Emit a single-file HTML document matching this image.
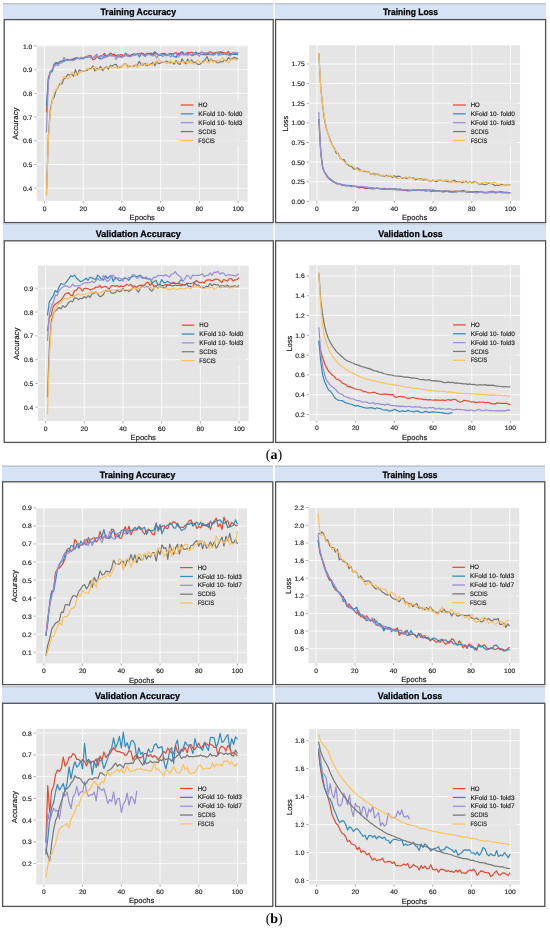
<!DOCTYPE html>
<html><head><meta charset="utf-8"><style>
html,body{margin:0;padding:0;background:#fff;}
svg{display:block;filter:blur(0.45px);text-rendering:geometricPrecision;}
.tk{font-family:"Liberation Sans",sans-serif;font-size:6.5px;fill:#222;stroke:#222;stroke-width:0.15px;}
.lb{font-family:"Liberation Sans",sans-serif;font-size:7.6px;fill:#111;stroke:#111;stroke-width:0.15px;}
.lg{font-family:"Liberation Sans",sans-serif;font-size:6.5px;fill:#222;stroke:#222;stroke-width:0.15px;}
.tt{font-family:"Liberation Sans",sans-serif;font-size:9.3px;font-weight:bold;fill:#000;stroke:#000;stroke-width:0.25px;}
.cap{font-family:"Liberation Serif",serif;font-size:14px;fill:#000;}
.cap tspan{font-weight:bold;}
</style></head><body>
<svg width="550" height="928" viewBox="0 0 550 928">
<rect x="0" y="0" width="550" height="928" fill="#fff"/>
<rect x="3" y="3" width="270.5" height="16" fill="#D6E3F4"/>
<line x1="3" y1="3.75" x2="273.5" y2="3.75" stroke="#BEC5CE" stroke-width="1.5"/>
<text x="138.25" y="15" class="tt" text-anchor="middle" textLength="75.60" lengthAdjust="spacingAndGlyphs">Training Accuracy</text>
<rect x="275" y="3" width="271" height="16" fill="#D6E3F4"/>
<line x1="275" y1="3.75" x2="546" y2="3.75" stroke="#BEC5CE" stroke-width="1.5"/>
<text x="410.5" y="15" class="tt" text-anchor="middle" textLength="55.16" lengthAdjust="spacingAndGlyphs">Training Loss</text>
<rect x="4.2" y="19.6" width="269.0" height="203.0" fill="none" stroke="#505050" stroke-width="1.3"/>
<rect x="275.6" y="19.6" width="270.0" height="203.0" fill="none" stroke="#505050" stroke-width="1.3"/>
<rect x="3" y="223" width="270.5" height="17.5" fill="#D6E3F4"/>
<line x1="3" y1="223.75" x2="273.5" y2="223.75" stroke="#BEC5CE" stroke-width="1.5"/>
<text x="138.25" y="236.5" class="tt" text-anchor="middle" textLength="84.92" lengthAdjust="spacingAndGlyphs">Validation Accuracy</text>
<rect x="275" y="223" width="271" height="17.5" fill="#D6E3F4"/>
<line x1="275" y1="223.75" x2="546" y2="223.75" stroke="#BEC5CE" stroke-width="1.5"/>
<text x="410.5" y="236.5" class="tt" text-anchor="middle" textLength="64.48" lengthAdjust="spacingAndGlyphs">Validation Loss</text>
<rect x="4.2" y="240.8" width="269.1" height="201.59999999999997" fill="none" stroke="#505050" stroke-width="1.3"/>
<rect x="275.6" y="240.8" width="270.0" height="201.59999999999997" fill="none" stroke="#505050" stroke-width="1.3"/>
<rect x="2" y="465.5" width="271" height="16.0" fill="#D6E3F4"/>
<line x1="2" y1="466.25" x2="273" y2="466.25" stroke="#BEC5CE" stroke-width="1.5"/>
<text x="137.5" y="477.5" class="tt" text-anchor="middle" textLength="75.60" lengthAdjust="spacingAndGlyphs">Training Accuracy</text>
<rect x="275" y="465.5" width="270" height="16.0" fill="#D6E3F4"/>
<line x1="275" y1="466.25" x2="545" y2="466.25" stroke="#BEC5CE" stroke-width="1.5"/>
<text x="410.0" y="477.5" class="tt" text-anchor="middle" textLength="55.16" lengthAdjust="spacingAndGlyphs">Training Loss</text>
<rect x="2.6" y="481.8" width="270.2" height="202.8" fill="none" stroke="#505050" stroke-width="1.3"/>
<rect x="275.6" y="481.8" width="269.19999999999993" height="202.8" fill="none" stroke="#505050" stroke-width="1.3"/>
<rect x="2" y="686" width="271" height="17" fill="#D6E3F4"/>
<line x1="2" y1="686.75" x2="273" y2="686.75" stroke="#BEC5CE" stroke-width="1.5"/>
<text x="137.5" y="699" class="tt" text-anchor="middle" textLength="84.92" lengthAdjust="spacingAndGlyphs">Validation Accuracy</text>
<rect x="275" y="686" width="270" height="17" fill="#D6E3F4"/>
<line x1="275" y1="686.75" x2="545" y2="686.75" stroke="#BEC5CE" stroke-width="1.5"/>
<text x="410.0" y="699" class="tt" text-anchor="middle" textLength="64.48" lengthAdjust="spacingAndGlyphs">Validation Loss</text>
<rect x="2.6" y="703.3" width="270.2" height="203.10000000000002" fill="none" stroke="#505050" stroke-width="1.3"/>
<rect x="275.6" y="703.3" width="269.19999999999993" height="203.10000000000002" fill="none" stroke="#505050" stroke-width="1.3"/>
<rect x="36.85" y="45.30" width="210.8304" height="155.6" fill="#E5E5E5"/>
<line x1="44.50" y1="45.30" x2="44.50" y2="200.90" stroke="#fff" stroke-opacity="0.8" stroke-width="1.0"/>
<line x1="83.22" y1="45.30" x2="83.22" y2="200.90" stroke="#fff" stroke-opacity="0.8" stroke-width="1.0"/>
<line x1="121.94" y1="45.30" x2="121.94" y2="200.90" stroke="#fff" stroke-opacity="0.8" stroke-width="1.0"/>
<line x1="160.66" y1="45.30" x2="160.66" y2="200.90" stroke="#fff" stroke-opacity="0.8" stroke-width="1.0"/>
<line x1="199.38" y1="45.30" x2="199.38" y2="200.90" stroke="#fff" stroke-opacity="0.8" stroke-width="1.0"/>
<line x1="238.10" y1="45.30" x2="238.10" y2="200.90" stroke="#fff" stroke-opacity="0.8" stroke-width="1.0"/>
<line x1="36.85" y1="188.22" x2="247.68" y2="188.22" stroke="#fff" stroke-opacity="0.8" stroke-width="1.0"/>
<line x1="36.85" y1="164.52" x2="247.68" y2="164.52" stroke="#fff" stroke-opacity="0.8" stroke-width="1.0"/>
<line x1="36.85" y1="140.82" x2="247.68" y2="140.82" stroke="#fff" stroke-opacity="0.8" stroke-width="1.0"/>
<line x1="36.85" y1="117.12" x2="247.68" y2="117.12" stroke="#fff" stroke-opacity="0.8" stroke-width="1.0"/>
<line x1="36.85" y1="93.41" x2="247.68" y2="93.41" stroke="#fff" stroke-opacity="0.8" stroke-width="1.0"/>
<line x1="36.85" y1="69.71" x2="247.68" y2="69.71" stroke="#fff" stroke-opacity="0.8" stroke-width="1.0"/>
<line x1="36.85" y1="46.01" x2="247.68" y2="46.01" stroke="#fff" stroke-opacity="0.8" stroke-width="1.0"/>
<polyline points="46.44,112.38 48.37,77.70 50.31,71.59 52.24,70.08 54.18,64.95 56.12,63.44 58.05,63.66 59.99,61.61 61.92,61.01 63.86,60.44 65.80,60.21 67.73,59.20 69.67,60.27 71.60,59.38 73.54,59.36 75.48,57.82 77.41,58.12 79.35,58.33 81.28,58.74 83.22,57.97 85.16,57.41 87.09,57.52 89.03,55.51 90.96,55.50 92.90,59.76 94.84,59.07 96.77,56.84 98.71,56.78 100.64,55.90 102.58,55.69 104.52,53.30 106.45,56.78 108.39,56.15 110.32,53.12 112.26,54.37 114.20,54.37 116.13,55.67 118.07,57.05 120.00,54.95 121.94,54.72 123.88,56.20 125.81,55.61 127.75,54.75 129.68,55.62 131.62,54.62 133.56,54.22 135.49,54.20 137.43,54.80 139.36,53.51 141.30,52.99 143.24,53.57 145.17,54.94 147.11,53.20 149.04,54.44 150.98,52.89 152.92,55.01 154.85,52.83 156.79,53.69 158.72,55.19 160.66,54.20 162.60,53.63 164.53,53.28 166.47,54.70 168.40,54.95 170.34,53.40 172.28,54.00 174.21,53.19 176.15,52.46 178.08,55.21 180.02,53.20 181.96,51.82 183.89,53.46 185.83,54.20 187.76,52.39 189.70,52.77 191.64,52.02 193.57,53.40 195.51,54.86 197.44,53.36 199.38,53.59 201.32,52.15 203.25,52.67 205.19,54.87 207.12,54.56 209.06,52.04 211.00,52.01 212.93,53.56 214.87,52.94 216.80,52.33 218.74,52.22 220.68,51.71 222.61,52.38 224.55,52.84 226.48,53.07 228.42,51.52 230.36,55.26 232.29,53.12 234.23,52.69 236.16,54.35 238.10,52.42" fill="none" stroke="#E24A33" stroke-width="1.2" stroke-linejoin="round"/>
<polyline points="46.44,105.26 48.37,79.32 50.31,72.63 52.24,71.54 54.18,64.04 56.12,62.55 58.05,63.40 59.99,61.48 61.92,61.26 63.86,61.67 65.80,59.43 67.73,60.36 69.67,60.12 71.60,60.32 73.54,58.56 75.48,58.79 77.41,57.87 79.35,58.96 81.28,58.03 83.22,58.98 85.16,56.87 87.09,57.29 89.03,57.02 90.96,56.77 92.90,58.30 94.84,56.20 96.77,54.36 98.71,58.44 100.64,58.85 102.58,58.52 104.52,55.60 106.45,56.05 108.39,54.88 110.32,55.09 112.26,55.63 114.20,55.50 116.13,55.94 118.07,54.67 120.00,56.83 121.94,56.13 123.88,55.19 125.81,53.18 127.75,55.94 129.68,56.52 131.62,55.90 133.56,53.95 135.49,55.15 137.43,53.38 139.36,56.96 141.30,53.73 143.24,53.48 145.17,56.33 147.11,54.72 149.04,53.27 150.98,54.43 152.92,53.44 154.85,51.68 156.79,53.96 158.72,54.82 160.66,55.46 162.60,53.81 164.53,54.62 166.47,54.65 168.40,54.54 170.34,53.61 172.28,55.52 174.21,56.24 176.15,57.36 178.08,53.14 180.02,54.03 181.96,52.39 183.89,54.00 185.83,55.01 187.76,53.64 189.70,54.14 191.64,55.56 193.57,55.24 195.51,52.05 197.44,53.39 199.38,53.43 201.32,54.23 203.25,54.78 205.19,52.95 207.12,53.92 209.06,54.78 211.00,54.11 212.93,54.93 214.87,53.70 216.80,52.45 218.74,54.63 220.68,52.15 222.61,54.37 224.55,53.60 226.48,54.68 228.42,54.05 230.36,53.65 232.29,54.16 234.23,54.51 236.16,54.50 238.10,54.66" fill="none" stroke="#348ABD" stroke-width="1.2" stroke-linejoin="round"/>
<polyline points="46.44,132.52 48.37,81.98 50.31,71.87 52.24,69.24 54.18,66.48 56.12,64.43 58.05,65.68 59.99,63.03 61.92,62.93 63.86,57.44 65.80,60.11 67.73,60.69 69.67,60.31 71.60,60.41 73.54,60.57 75.48,59.55 77.41,58.23 79.35,58.77 81.28,57.24 83.22,58.30 85.16,57.98 87.09,56.00 89.03,56.85 90.96,58.05 92.90,57.66 94.84,56.65 96.77,54.79 98.71,57.12 100.64,57.22 102.58,55.66 104.52,57.65 106.45,57.06 108.39,55.52 110.32,55.64 112.26,56.15 114.20,55.44 116.13,59.44 118.07,55.20 120.00,57.05 121.94,58.01 123.88,55.73 125.81,54.93 127.75,56.14 129.68,56.95 131.62,55.66 133.56,55.56 135.49,53.78 137.43,54.34 139.36,55.01 141.30,53.94 143.24,55.36 145.17,56.31 147.11,54.58 149.04,54.36 150.98,55.25 152.92,55.97 154.85,54.81 156.79,57.88 158.72,54.38 160.66,54.23 162.60,56.70 164.53,54.90 166.47,55.90 168.40,53.93 170.34,57.01 172.28,55.96 174.21,53.89 176.15,53.13 178.08,56.95 180.02,55.33 181.96,54.16 183.89,55.13 185.83,52.59 187.76,55.60 189.70,54.04 191.64,55.52 193.57,52.73 195.51,54.11 197.44,54.63 199.38,56.25 201.32,52.36 203.25,53.04 205.19,53.08 207.12,52.60 209.06,53.46 211.00,54.69 212.93,54.97 214.87,54.98 216.80,52.38 218.74,55.45 220.68,54.70 222.61,54.28 224.55,53.56 226.48,53.05 228.42,55.14 230.36,55.89 232.29,53.90 234.23,52.23 236.16,52.58 238.10,53.24" fill="none" stroke="#988ED5" stroke-width="1.2" stroke-linejoin="round"/>
<polyline points="46.44,195.33 48.37,136.47 50.31,109.65 52.24,100.08 54.18,97.01 56.12,90.29 58.05,87.36 59.99,83.50 61.92,83.95 63.86,79.06 65.80,77.63 67.73,74.32 69.67,75.22 71.60,74.06 73.54,76.35 75.48,69.52 77.41,74.95 79.35,69.73 81.28,70.86 83.22,71.21 85.16,70.67 87.09,70.39 89.03,68.39 90.96,68.78 92.90,65.96 94.84,70.97 96.77,68.24 98.71,69.25 100.64,66.40 102.58,70.74 104.52,68.07 106.45,66.73 108.39,69.25 110.32,65.25 112.26,66.05 114.20,64.61 116.13,64.41 118.07,67.48 120.00,67.35 121.94,66.22 123.88,64.41 125.81,63.94 127.75,66.36 129.68,66.32 131.62,66.52 133.56,66.08 135.49,65.35 137.43,64.99 139.36,61.22 141.30,65.00 143.24,64.89 145.17,63.52 147.11,65.61 149.04,64.74 150.98,63.90 152.92,62.45 154.85,65.66 156.79,61.42 158.72,63.75 160.66,63.02 162.60,61.72 164.53,61.80 166.47,61.05 168.40,62.35 170.34,62.70 172.28,62.09 174.21,64.11 176.15,60.55 178.08,63.41 180.02,64.41 181.96,58.92 183.89,61.93 185.83,63.87 187.76,58.96 189.70,62.00 191.64,59.92 193.57,62.73 195.51,61.94 197.44,64.14 199.38,64.62 201.32,63.01 203.25,61.26 205.19,59.53 207.12,56.55 209.06,61.89 211.00,58.94 212.93,61.22 214.87,60.60 216.80,62.65 218.74,62.75 220.68,61.50 222.61,61.97 224.55,59.96 226.48,60.82 228.42,57.58 230.36,58.99 232.29,59.02 234.23,57.32 236.16,58.09 238.10,59.00" fill="none" stroke="#777777" stroke-width="1.2" stroke-linejoin="round"/>
<polyline points="46.44,195.33 48.37,138.41 50.31,113.02 52.24,100.81 54.18,92.48 56.12,89.65 58.05,87.18 59.99,85.03 61.92,80.19 63.86,76.37 65.80,77.30 67.73,78.95 69.67,77.79 71.60,72.51 73.54,73.38 75.48,75.83 77.41,72.54 79.35,73.24 81.28,71.71 83.22,70.65 85.16,70.70 87.09,68.36 89.03,68.92 90.96,69.63 92.90,67.83 94.84,66.74 96.77,70.54 98.71,68.43 100.64,69.24 102.58,67.80 104.52,69.34 106.45,67.17 108.39,66.89 110.32,67.16 112.26,68.27 114.20,67.16 116.13,68.07 118.07,68.46 120.00,65.75 121.94,67.57 123.88,63.84 125.81,64.10 127.75,68.52 129.68,65.08 131.62,66.90 133.56,65.09 135.49,64.78 137.43,68.02 139.36,65.33 141.30,64.99 143.24,62.82 145.17,66.04 147.11,63.06 149.04,65.69 150.98,64.57 152.92,65.19 154.85,61.35 156.79,62.32 158.72,59.22 160.66,61.78 162.60,61.60 164.53,61.49 166.47,63.78 168.40,63.02 170.34,60.50 172.28,63.05 174.21,62.24 176.15,62.42 178.08,61.30 180.02,62.72 181.96,62.42 183.89,61.65 185.83,61.72 187.76,63.25 189.70,60.40 191.64,63.67 193.57,63.72 195.51,63.75 197.44,59.92 199.38,61.63 201.32,62.71 203.25,62.98 205.19,60.32 207.12,62.40 209.06,62.87 211.00,59.69 212.93,62.28 214.87,60.99 216.80,60.24 218.74,60.80 220.68,60.11 222.61,57.63 224.55,60.37 226.48,61.79 228.42,62.80 230.36,60.10 232.29,59.99 234.23,58.86 236.16,59.88 238.10,59.91" fill="none" stroke="#FBC15E" stroke-width="1.2" stroke-linejoin="round"/>
<line x1="44.50" y1="200.90" x2="44.50" y2="203.20" stroke="#777" stroke-width="0.6"/>
<text x="44.50" y="210.50" class="tk" text-anchor="middle" textLength="3.75" lengthAdjust="spacingAndGlyphs">0</text>
<line x1="83.22" y1="200.90" x2="83.22" y2="203.20" stroke="#777" stroke-width="0.6"/>
<text x="83.22" y="210.50" class="tk" text-anchor="middle" textLength="7.49" lengthAdjust="spacingAndGlyphs">20</text>
<line x1="121.94" y1="200.90" x2="121.94" y2="203.20" stroke="#777" stroke-width="0.6"/>
<text x="121.94" y="210.50" class="tk" text-anchor="middle" textLength="7.49" lengthAdjust="spacingAndGlyphs">40</text>
<line x1="160.66" y1="200.90" x2="160.66" y2="203.20" stroke="#777" stroke-width="0.6"/>
<text x="160.66" y="210.50" class="tk" text-anchor="middle" textLength="7.49" lengthAdjust="spacingAndGlyphs">60</text>
<line x1="199.38" y1="200.90" x2="199.38" y2="203.20" stroke="#777" stroke-width="0.6"/>
<text x="199.38" y="210.50" class="tk" text-anchor="middle" textLength="7.49" lengthAdjust="spacingAndGlyphs">80</text>
<line x1="238.10" y1="200.90" x2="238.10" y2="203.20" stroke="#777" stroke-width="0.6"/>
<text x="238.10" y="210.50" class="tk" text-anchor="middle" textLength="11.24" lengthAdjust="spacingAndGlyphs">100</text>
<line x1="34.25" y1="188.22" x2="36.65" y2="188.22" stroke="#777" stroke-width="0.6"/>
<text x="32.35" y="190.72" class="tk" text-anchor="end" textLength="9.37" lengthAdjust="spacingAndGlyphs">0.4</text>
<line x1="34.25" y1="164.52" x2="36.65" y2="164.52" stroke="#777" stroke-width="0.6"/>
<text x="32.35" y="167.02" class="tk" text-anchor="end" textLength="9.37" lengthAdjust="spacingAndGlyphs">0.5</text>
<line x1="34.25" y1="140.82" x2="36.65" y2="140.82" stroke="#777" stroke-width="0.6"/>
<text x="32.35" y="143.32" class="tk" text-anchor="end" textLength="9.37" lengthAdjust="spacingAndGlyphs">0.6</text>
<line x1="34.25" y1="117.12" x2="36.65" y2="117.12" stroke="#777" stroke-width="0.6"/>
<text x="32.35" y="119.62" class="tk" text-anchor="end" textLength="9.37" lengthAdjust="spacingAndGlyphs">0.7</text>
<line x1="34.25" y1="93.41" x2="36.65" y2="93.41" stroke="#777" stroke-width="0.6"/>
<text x="32.35" y="95.91" class="tk" text-anchor="end" textLength="9.37" lengthAdjust="spacingAndGlyphs">0.8</text>
<line x1="34.25" y1="69.71" x2="36.65" y2="69.71" stroke="#777" stroke-width="0.6"/>
<text x="32.35" y="72.21" class="tk" text-anchor="end" textLength="9.37" lengthAdjust="spacingAndGlyphs">0.9</text>
<line x1="34.25" y1="46.01" x2="36.65" y2="46.01" stroke="#777" stroke-width="0.6"/>
<text x="32.35" y="48.51" class="tk" text-anchor="end" textLength="9.37" lengthAdjust="spacingAndGlyphs">1.0</text>
<text x="142.27" y="219.90" class="lb" text-anchor="middle" textLength="25.33" lengthAdjust="spacingAndGlyphs">Epochs</text>
<text x="0" y="0" class="lb" text-anchor="middle" textLength="32.28" lengthAdjust="spacingAndGlyphs" transform="translate(17.99,123.60) rotate(-90)">Accuracy</text>
<rect x="178.18" y="99.60" width="66.60" height="46.20" fill="#E5E5E5" fill-opacity="0.85" stroke="none" rx="1.5"/>
<line x1="180.68" y1="105.00" x2="193.38" y2="105.00" stroke="#E24A33" stroke-width="1.25"/>
<text x="198.28" y="107.10" class="lg" textLength="9.07" lengthAdjust="spacingAndGlyphs">HO</text>
<line x1="180.68" y1="113.85" x2="193.38" y2="113.85" stroke="#348ABD" stroke-width="1.25"/>
<text x="198.28" y="115.95" class="lg" textLength="44.18" lengthAdjust="spacingAndGlyphs">KFold 10- fold0</text>
<line x1="180.68" y1="122.70" x2="193.38" y2="122.70" stroke="#988ED5" stroke-width="1.25"/>
<text x="198.28" y="124.80" class="lg" textLength="44.18" lengthAdjust="spacingAndGlyphs">KFold 10- fold3</text>
<line x1="180.68" y1="131.55" x2="193.38" y2="131.55" stroke="#777777" stroke-width="1.25"/>
<text x="198.28" y="133.65" class="lg" textLength="17.86" lengthAdjust="spacingAndGlyphs">SCDIS</text>
<line x1="180.68" y1="140.40" x2="193.38" y2="140.40" stroke="#FBC15E" stroke-width="1.25"/>
<text x="198.28" y="142.50" class="lg" textLength="16.61" lengthAdjust="spacingAndGlyphs">FSCIS</text>
<rect x="309.25" y="45.30" width="210.8304" height="155.6" fill="#E5E5E5"/>
<line x1="316.90" y1="45.30" x2="316.90" y2="200.90" stroke="#fff" stroke-opacity="0.8" stroke-width="1.0"/>
<line x1="355.62" y1="45.30" x2="355.62" y2="200.90" stroke="#fff" stroke-opacity="0.8" stroke-width="1.0"/>
<line x1="394.34" y1="45.30" x2="394.34" y2="200.90" stroke="#fff" stroke-opacity="0.8" stroke-width="1.0"/>
<line x1="433.06" y1="45.30" x2="433.06" y2="200.90" stroke="#fff" stroke-opacity="0.8" stroke-width="1.0"/>
<line x1="471.78" y1="45.30" x2="471.78" y2="200.90" stroke="#fff" stroke-opacity="0.8" stroke-width="1.0"/>
<line x1="510.50" y1="45.30" x2="510.50" y2="200.90" stroke="#fff" stroke-opacity="0.8" stroke-width="1.0"/>
<line x1="309.25" y1="201.37" x2="520.08" y2="201.37" stroke="#fff" stroke-opacity="0.8" stroke-width="1.0"/>
<line x1="309.25" y1="181.74" x2="520.08" y2="181.74" stroke="#fff" stroke-opacity="0.8" stroke-width="1.0"/>
<line x1="309.25" y1="162.12" x2="520.08" y2="162.12" stroke="#fff" stroke-opacity="0.8" stroke-width="1.0"/>
<line x1="309.25" y1="142.49" x2="520.08" y2="142.49" stroke="#fff" stroke-opacity="0.8" stroke-width="1.0"/>
<line x1="309.25" y1="122.86" x2="520.08" y2="122.86" stroke="#fff" stroke-opacity="0.8" stroke-width="1.0"/>
<line x1="309.25" y1="103.24" x2="520.08" y2="103.24" stroke="#fff" stroke-opacity="0.8" stroke-width="1.0"/>
<line x1="309.25" y1="83.61" x2="520.08" y2="83.61" stroke="#fff" stroke-opacity="0.8" stroke-width="1.0"/>
<line x1="309.25" y1="63.98" x2="520.08" y2="63.98" stroke="#fff" stroke-opacity="0.8" stroke-width="1.0"/>
<polyline points="318.84,118.94 320.77,152.05 322.71,167.63 324.64,172.51 326.58,175.82 328.52,178.22 330.45,179.34 332.39,180.87 334.32,181.76 336.26,183.97 338.20,183.43 340.13,184.27 342.07,184.43 344.00,185.12 345.94,185.67 347.88,185.62 349.81,185.59 351.75,186.21 353.68,186.52 355.62,186.35 357.56,187.16 359.49,187.83 361.43,187.25 363.36,187.69 365.30,188.52 367.24,188.35 369.17,188.24 371.11,188.64 373.04,188.99 374.98,188.47 376.92,188.00 378.85,188.47 380.79,188.94 382.72,188.62 384.66,188.45 386.60,188.96 388.53,188.79 390.47,188.57 392.40,189.17 394.34,189.71 396.28,189.39 398.21,189.41 400.15,189.07 402.08,190.16 404.02,190.26 405.96,190.43 407.89,190.96 409.83,190.30 411.76,189.98 413.70,190.53 415.64,189.75 417.57,189.84 419.51,190.01 421.44,190.21 423.38,190.07 425.32,191.14 427.25,190.58 429.19,190.46 431.12,191.58 433.06,190.96 435.00,191.09 436.93,190.68 438.87,191.17 440.80,191.15 442.74,191.01 444.68,191.58 446.61,191.09 448.55,191.31 450.48,191.13 452.42,191.58 454.36,191.00 456.29,191.08 458.23,191.50 460.16,191.28 462.10,190.95 464.04,190.63 465.97,192.15 467.91,191.47 469.84,191.50 471.78,191.80 473.72,192.35 475.65,191.47 477.59,192.42 479.52,191.88 481.46,191.39 483.40,192.64 485.33,192.43 487.27,192.87 489.20,192.29 491.14,191.55 493.08,191.11 495.01,192.79 496.95,192.76 498.88,192.17 500.82,191.60 502.76,192.00 504.69,192.70 506.63,192.44 508.56,192.53 510.50,192.67" fill="none" stroke="#E24A33" stroke-width="1.2" stroke-linejoin="round"/>
<polyline points="318.84,118.94 320.77,152.29 322.71,167.98 324.64,172.09 326.58,174.92 328.52,178.18 330.45,179.84 332.39,181.52 334.32,182.34 336.26,182.88 338.20,183.85 340.13,184.16 342.07,185.47 344.00,185.30 345.94,185.90 347.88,185.22 349.81,185.50 351.75,185.72 353.68,186.32 355.62,186.37 357.56,186.50 359.49,187.05 361.43,187.40 363.36,187.46 365.30,187.78 367.24,187.98 369.17,188.01 371.11,188.30 373.04,187.89 374.98,188.78 376.92,188.19 378.85,188.66 380.79,188.86 382.72,189.31 384.66,189.05 386.60,189.09 388.53,189.01 390.47,189.34 392.40,189.27 394.34,188.64 396.28,189.07 398.21,189.65 400.15,189.29 402.08,189.67 404.02,189.57 405.96,189.59 407.89,190.05 409.83,190.85 411.76,190.52 413.70,190.13 415.64,190.43 417.57,190.25 419.51,190.04 421.44,190.63 423.38,190.16 425.32,189.90 427.25,190.08 429.19,190.14 431.12,190.22 433.06,189.83 435.00,190.56 436.93,190.89 438.87,190.79 440.80,191.39 442.74,191.86 444.68,191.77 446.61,191.28 448.55,191.13 450.48,191.91 452.42,192.31 454.36,191.85 456.29,191.69 458.23,191.62 460.16,191.35 462.10,191.08 464.04,191.42 465.97,191.40 467.91,192.10 469.84,192.37 471.78,191.92 473.72,191.65 475.65,191.57 477.59,191.63 479.52,191.60 481.46,191.60 483.40,192.64 485.33,192.58 487.27,192.12 489.20,191.95 491.14,192.75 493.08,191.96 495.01,192.39 496.95,192.46 498.88,192.30 500.82,192.09 502.76,192.91 504.69,192.23 506.63,192.41 508.56,192.82 510.50,192.77" fill="none" stroke="#348ABD" stroke-width="1.2" stroke-linejoin="round"/>
<polyline points="318.84,111.87 320.77,153.69 322.71,168.32 324.64,172.45 326.58,175.14 328.52,177.62 330.45,178.71 332.39,180.65 334.32,182.24 336.26,183.01 338.20,183.71 340.13,184.45 342.07,184.90 344.00,184.91 345.94,185.15 347.88,185.88 349.81,186.20 351.75,187.01 353.68,186.02 355.62,186.61 357.56,186.30 359.49,186.69 361.43,186.33 363.36,186.49 365.30,187.13 367.24,186.97 369.17,187.97 371.11,187.50 373.04,188.53 374.98,188.22 376.92,187.92 378.85,188.25 380.79,188.66 382.72,189.04 384.66,189.05 386.60,188.58 388.53,188.58 390.47,189.11 392.40,189.72 394.34,189.22 396.28,189.97 398.21,189.91 400.15,190.03 402.08,189.55 404.02,189.67 405.96,189.68 407.89,189.81 409.83,190.29 411.76,190.01 413.70,189.64 415.64,190.15 417.57,190.09 419.51,190.43 421.44,190.13 423.38,190.23 425.32,190.22 427.25,190.46 429.19,190.06 431.12,190.77 433.06,191.01 435.00,191.22 436.93,190.85 438.87,191.26 440.80,191.43 442.74,190.97 444.68,190.70 446.61,190.88 448.55,192.25 450.48,192.02 452.42,192.03 454.36,192.11 456.29,191.86 458.23,190.94 460.16,191.53 462.10,191.90 464.04,191.48 465.97,191.64 467.91,191.69 469.84,192.05 471.78,191.92 473.72,191.74 475.65,192.63 477.59,192.81 479.52,191.83 481.46,191.66 483.40,192.17 485.33,192.55 487.27,192.36 489.20,192.72 491.14,192.52 493.08,191.71 495.01,192.08 496.95,191.82 498.88,192.31 500.82,192.24 502.76,191.85 504.69,192.82 506.63,192.75 508.56,192.68 510.50,192.51" fill="none" stroke="#988ED5" stroke-width="1.2" stroke-linejoin="round"/>
<polyline points="318.84,52.99 320.77,88.25 322.71,106.48 324.64,120.56 326.58,129.12 328.52,135.00 330.45,140.86 332.39,144.94 334.32,148.37 336.26,153.28 338.20,153.46 340.13,158.25 342.07,159.62 344.00,159.63 345.94,163.49 347.88,164.85 349.81,166.26 351.75,166.51 353.68,169.20 355.62,169.00 357.56,167.81 359.49,169.48 361.43,170.61 363.36,170.81 365.30,171.36 367.24,172.09 369.17,172.22 371.11,174.38 373.04,173.20 374.98,174.43 376.92,173.76 378.85,174.66 380.79,175.85 382.72,175.56 384.66,176.57 386.60,175.33 388.53,176.20 390.47,175.78 392.40,177.46 394.34,175.65 396.28,177.15 398.21,176.15 400.15,176.61 402.08,178.35 404.02,177.56 405.96,178.34 407.89,177.86 409.83,177.19 411.76,177.90 413.70,177.85 415.64,179.78 417.57,179.06 419.51,179.04 421.44,178.63 423.38,180.09 425.32,179.43 427.25,179.57 429.19,181.22 431.12,181.10 433.06,180.02 435.00,181.28 436.93,181.54 438.87,179.99 440.80,180.41 442.74,180.95 444.68,180.82 446.61,181.29 448.55,181.53 450.48,181.58 452.42,181.00 454.36,180.29 456.29,181.70 458.23,181.61 460.16,181.80 462.10,182.71 464.04,181.73 465.97,181.30 467.91,182.75 469.84,181.72 471.78,182.86 473.72,181.76 475.65,181.74 477.59,183.13 479.52,184.68 481.46,183.67 483.40,184.52 485.33,184.67 487.27,183.98 489.20,182.78 491.14,183.92 493.08,184.26 495.01,185.70 496.95,184.99 498.88,185.66 500.82,184.34 502.76,185.15 504.69,184.97 506.63,185.04 508.56,185.30 510.50,184.54" fill="none" stroke="#777777" stroke-width="1.2" stroke-linejoin="round"/>
<polyline points="318.84,52.99 320.77,88.38 322.71,104.95 324.64,118.52 326.58,128.23 328.52,135.25 330.45,142.04 332.39,144.66 334.32,149.61 336.26,151.06 338.20,154.75 340.13,158.12 342.07,159.74 344.00,161.62 345.94,163.34 347.88,163.83 349.81,165.34 351.75,165.38 353.68,166.92 355.62,168.41 357.56,170.27 359.49,171.12 361.43,170.42 363.36,170.55 365.30,170.52 367.24,172.60 369.17,172.66 371.11,173.75 373.04,173.93 374.98,175.77 376.92,173.93 378.85,175.23 380.79,175.18 382.72,175.08 384.66,175.47 386.60,177.04 388.53,175.16 390.47,175.75 392.40,176.19 394.34,177.31 396.28,178.34 398.21,178.62 400.15,177.69 402.08,177.47 404.02,178.28 405.96,176.55 407.89,177.76 409.83,177.53 411.76,177.76 413.70,179.51 415.64,178.24 417.57,178.71 419.51,180.28 421.44,179.04 423.38,178.80 425.32,178.98 427.25,179.04 429.19,181.08 431.12,180.47 433.06,180.74 435.00,180.39 436.93,180.40 438.87,179.70 440.80,180.01 442.74,181.37 444.68,180.24 446.61,179.64 448.55,180.70 450.48,182.31 452.42,181.88 454.36,181.56 456.29,182.74 458.23,181.77 460.16,182.64 462.10,181.18 464.04,181.24 465.97,181.99 467.91,183.14 469.84,182.19 471.78,182.96 473.72,183.22 475.65,181.97 477.59,183.45 479.52,184.22 481.46,182.73 483.40,181.93 485.33,182.12 487.27,182.92 489.20,182.09 491.14,184.06 493.08,182.39 495.01,182.41 496.95,184.45 498.88,184.18 500.82,185.61 502.76,185.67 504.69,184.54 506.63,185.90 508.56,185.07 510.50,184.91" fill="none" stroke="#FBC15E" stroke-width="1.2" stroke-linejoin="round"/>
<line x1="316.90" y1="200.90" x2="316.90" y2="203.20" stroke="#777" stroke-width="0.6"/>
<text x="316.90" y="210.50" class="tk" text-anchor="middle" textLength="3.75" lengthAdjust="spacingAndGlyphs">0</text>
<line x1="355.62" y1="200.90" x2="355.62" y2="203.20" stroke="#777" stroke-width="0.6"/>
<text x="355.62" y="210.50" class="tk" text-anchor="middle" textLength="7.49" lengthAdjust="spacingAndGlyphs">20</text>
<line x1="394.34" y1="200.90" x2="394.34" y2="203.20" stroke="#777" stroke-width="0.6"/>
<text x="394.34" y="210.50" class="tk" text-anchor="middle" textLength="7.49" lengthAdjust="spacingAndGlyphs">40</text>
<line x1="433.06" y1="200.90" x2="433.06" y2="203.20" stroke="#777" stroke-width="0.6"/>
<text x="433.06" y="210.50" class="tk" text-anchor="middle" textLength="7.49" lengthAdjust="spacingAndGlyphs">60</text>
<line x1="471.78" y1="200.90" x2="471.78" y2="203.20" stroke="#777" stroke-width="0.6"/>
<text x="471.78" y="210.50" class="tk" text-anchor="middle" textLength="7.49" lengthAdjust="spacingAndGlyphs">80</text>
<line x1="510.50" y1="200.90" x2="510.50" y2="203.20" stroke="#777" stroke-width="0.6"/>
<text x="510.50" y="210.50" class="tk" text-anchor="middle" textLength="11.24" lengthAdjust="spacingAndGlyphs">100</text>
<line x1="306.65" y1="201.37" x2="309.05" y2="201.37" stroke="#777" stroke-width="0.6"/>
<text x="304.75" y="203.87" class="tk" text-anchor="end" textLength="13.11" lengthAdjust="spacingAndGlyphs">0.00</text>
<line x1="306.65" y1="181.74" x2="309.05" y2="181.74" stroke="#777" stroke-width="0.6"/>
<text x="304.75" y="184.24" class="tk" text-anchor="end" textLength="13.11" lengthAdjust="spacingAndGlyphs">0.25</text>
<line x1="306.65" y1="162.12" x2="309.05" y2="162.12" stroke="#777" stroke-width="0.6"/>
<text x="304.75" y="164.62" class="tk" text-anchor="end" textLength="13.11" lengthAdjust="spacingAndGlyphs">0.50</text>
<line x1="306.65" y1="142.49" x2="309.05" y2="142.49" stroke="#777" stroke-width="0.6"/>
<text x="304.75" y="144.99" class="tk" text-anchor="end" textLength="13.11" lengthAdjust="spacingAndGlyphs">0.75</text>
<line x1="306.65" y1="122.86" x2="309.05" y2="122.86" stroke="#777" stroke-width="0.6"/>
<text x="304.75" y="125.36" class="tk" text-anchor="end" textLength="13.11" lengthAdjust="spacingAndGlyphs">1.00</text>
<line x1="306.65" y1="103.24" x2="309.05" y2="103.24" stroke="#777" stroke-width="0.6"/>
<text x="304.75" y="105.74" class="tk" text-anchor="end" textLength="13.11" lengthAdjust="spacingAndGlyphs">1.25</text>
<line x1="306.65" y1="83.61" x2="309.05" y2="83.61" stroke="#777" stroke-width="0.6"/>
<text x="304.75" y="86.11" class="tk" text-anchor="end" textLength="13.11" lengthAdjust="spacingAndGlyphs">1.50</text>
<line x1="306.65" y1="63.98" x2="309.05" y2="63.98" stroke="#777" stroke-width="0.6"/>
<text x="304.75" y="66.48" class="tk" text-anchor="end" textLength="13.11" lengthAdjust="spacingAndGlyphs">1.75</text>
<text x="414.67" y="219.90" class="lb" text-anchor="middle" textLength="25.33" lengthAdjust="spacingAndGlyphs">Epochs</text>
<text x="0" y="0" class="lb" text-anchor="middle" textLength="15.51" lengthAdjust="spacingAndGlyphs" transform="translate(288.34,123.60) rotate(-90)">Loss</text>
<rect x="450.58" y="99.60" width="66.60" height="46.20" fill="#E5E5E5" fill-opacity="0.85" stroke="none" rx="1.5"/>
<line x1="453.08" y1="105.00" x2="465.78" y2="105.00" stroke="#E24A33" stroke-width="1.25"/>
<text x="470.68" y="107.10" class="lg" textLength="9.07" lengthAdjust="spacingAndGlyphs">HO</text>
<line x1="453.08" y1="113.85" x2="465.78" y2="113.85" stroke="#348ABD" stroke-width="1.25"/>
<text x="470.68" y="115.95" class="lg" textLength="44.18" lengthAdjust="spacingAndGlyphs">KFold 10- fold0</text>
<line x1="453.08" y1="122.70" x2="465.78" y2="122.70" stroke="#988ED5" stroke-width="1.25"/>
<text x="470.68" y="124.80" class="lg" textLength="44.18" lengthAdjust="spacingAndGlyphs">KFold 10- fold3</text>
<line x1="453.08" y1="131.55" x2="465.78" y2="131.55" stroke="#777777" stroke-width="1.25"/>
<text x="470.68" y="133.65" class="lg" textLength="17.86" lengthAdjust="spacingAndGlyphs">SCDIS</text>
<line x1="453.08" y1="140.40" x2="465.78" y2="140.40" stroke="#FBC15E" stroke-width="1.25"/>
<text x="470.68" y="142.50" class="lg" textLength="16.61" lengthAdjust="spacingAndGlyphs">FSCIS</text>
<rect x="37.85" y="265.50" width="210.8304" height="155.6" fill="#E5E5E5"/>
<line x1="45.50" y1="265.50" x2="45.50" y2="421.10" stroke="#fff" stroke-opacity="0.8" stroke-width="1.0"/>
<line x1="84.22" y1="265.50" x2="84.22" y2="421.10" stroke="#fff" stroke-opacity="0.8" stroke-width="1.0"/>
<line x1="122.94" y1="265.50" x2="122.94" y2="421.10" stroke="#fff" stroke-opacity="0.8" stroke-width="1.0"/>
<line x1="161.66" y1="265.50" x2="161.66" y2="421.10" stroke="#fff" stroke-opacity="0.8" stroke-width="1.0"/>
<line x1="200.38" y1="265.50" x2="200.38" y2="421.10" stroke="#fff" stroke-opacity="0.8" stroke-width="1.0"/>
<line x1="239.10" y1="265.50" x2="239.10" y2="421.10" stroke="#fff" stroke-opacity="0.8" stroke-width="1.0"/>
<line x1="37.85" y1="407.21" x2="248.68" y2="407.21" stroke="#fff" stroke-opacity="0.8" stroke-width="1.0"/>
<line x1="37.85" y1="383.43" x2="248.68" y2="383.43" stroke="#fff" stroke-opacity="0.8" stroke-width="1.0"/>
<line x1="37.85" y1="359.65" x2="248.68" y2="359.65" stroke="#fff" stroke-opacity="0.8" stroke-width="1.0"/>
<line x1="37.85" y1="335.87" x2="248.68" y2="335.87" stroke="#fff" stroke-opacity="0.8" stroke-width="1.0"/>
<line x1="37.85" y1="312.09" x2="248.68" y2="312.09" stroke="#fff" stroke-opacity="0.8" stroke-width="1.0"/>
<line x1="37.85" y1="288.31" x2="248.68" y2="288.31" stroke="#fff" stroke-opacity="0.8" stroke-width="1.0"/>
<polyline points="47.44,331.11 49.37,317.40 51.31,314.90 53.24,306.47 55.18,304.16 57.12,303.08 59.05,301.46 60.99,300.20 62.92,297.56 64.86,294.31 66.80,293.32 68.73,292.56 70.67,295.27 72.60,295.55 74.54,290.85 76.48,289.94 78.41,287.62 80.35,288.03 82.28,291.06 84.22,288.41 86.16,288.31 88.09,288.63 90.03,289.97 91.96,288.98 93.90,288.69 95.84,286.96 97.77,287.40 99.71,285.31 101.64,287.91 103.58,286.77 105.52,286.27 107.45,287.93 109.39,288.76 111.32,285.76 113.26,285.46 115.20,286.25 117.13,285.62 119.07,286.88 121.00,285.88 122.94,286.71 124.88,285.75 126.81,284.26 128.75,285.63 130.68,284.28 132.62,286.50 134.56,286.03 136.49,287.37 138.43,285.90 140.36,285.15 142.30,285.25 144.24,285.33 146.17,283.00 148.11,282.13 150.04,285.58 151.98,283.15 153.92,286.50 155.85,286.05 157.79,285.07 159.72,284.32 161.66,285.71 163.60,285.62 165.53,284.40 167.47,285.10 169.40,285.19 171.34,283.31 173.28,282.33 175.21,283.41 177.15,283.58 179.08,283.65 181.02,284.25 182.96,284.47 184.89,285.25 186.83,283.04 188.76,283.39 190.70,283.53 192.64,282.98 194.57,282.17 196.51,280.51 198.44,282.29 200.38,282.87 202.32,282.04 204.25,283.15 206.19,280.32 208.12,279.84 210.06,279.89 212.00,280.93 213.93,279.89 215.87,279.01 217.80,279.40 219.74,280.51 221.68,282.72 223.61,279.51 225.55,280.28 227.48,281.09 229.42,278.74 231.36,278.70 233.29,281.08 235.23,279.80 237.16,279.54 239.10,277.55" fill="none" stroke="#E24A33" stroke-width="1.2" stroke-linejoin="round"/>
<polyline points="47.44,315.42 49.37,301.90 51.31,298.70 53.24,295.76 55.18,290.54 57.12,292.21 59.05,286.98 60.99,283.65 62.92,284.24 64.86,284.01 66.80,281.39 68.73,278.80 70.67,275.91 72.60,276.63 74.54,275.21 76.48,278.19 78.41,279.77 80.35,281.59 82.28,281.15 84.22,279.65 86.16,278.22 88.09,280.26 90.03,277.28 91.96,277.88 93.90,278.92 95.84,279.49 97.77,275.10 99.71,276.91 101.64,279.29 103.58,280.14 105.52,275.80 107.45,278.56 109.39,276.50 111.32,275.53 113.26,281.52 115.20,277.29 117.13,278.70 119.07,280.65 121.00,280.42 122.94,278.58 124.88,278.41 126.81,278.35 128.75,280.31 130.68,277.63 132.62,276.52 134.56,275.70 136.49,276.91 138.43,275.84 140.36,275.25 142.30,277.45 144.24,277.87 146.17,278.55 148.11,278.86 150.04,278.49 151.98,282.71 153.92,281.78 155.85,280.26 157.79,284.23 159.72,284.41 161.66,279.53 163.60,282.57 165.53,282.59 167.47,281.29 169.40,282.41 171.34,283.48 173.28,283.32 175.21,283.22 177.15,283.53 179.08,282.44 181.02,279.82 182.96,281.21" fill="none" stroke="#348ABD" stroke-width="1.2" stroke-linejoin="round"/>
<polyline points="47.44,340.86 49.37,314.77 51.31,305.76 53.24,302.94 55.18,295.23 57.12,295.69 59.05,290.62 60.99,288.63 62.92,286.92 64.86,285.70 66.80,285.98 68.73,287.12 70.67,286.98 72.60,284.20 74.54,286.21 76.48,285.77 78.41,285.88 80.35,285.20 82.28,284.30 84.22,282.84 86.16,282.84 88.09,282.58 90.03,282.55 91.96,281.22 93.90,282.56 95.84,280.82 97.77,278.37 99.71,280.46 101.64,279.92 103.58,275.54 105.52,279.53 107.45,281.50 109.39,280.26 111.32,276.59 113.26,275.05 115.20,279.14 117.13,277.74 119.07,278.05 121.00,278.92 122.94,281.04 124.88,277.37 126.81,278.88 128.75,277.61 130.68,277.48 132.62,274.82 134.56,274.95 136.49,278.25 138.43,277.90 140.36,275.89 142.30,278.60 144.24,278.02 146.17,276.90 148.11,279.14 150.04,279.21 151.98,279.85 153.92,277.13 155.85,277.44 157.79,275.34 159.72,275.79 161.66,275.20 163.60,275.89 165.53,274.84 167.47,275.67 169.40,277.11 171.34,274.39 173.28,273.79 175.21,271.72 177.15,274.47 179.08,275.85 181.02,277.45 182.96,281.30 184.89,278.76 186.83,275.38 188.76,276.26 190.70,278.91 192.64,275.09 194.57,275.62 196.51,275.41 198.44,275.42 200.38,274.95 202.32,273.91 204.25,276.71 206.19,275.37 208.12,275.33 210.06,272.94 212.00,275.28 213.93,272.14 215.87,272.63 217.80,271.30 219.74,274.18 221.68,272.86 223.61,273.07 225.55,275.75 227.48,274.76 229.42,274.71 231.36,275.39 233.29,275.28 235.23,276.18 237.16,275.03 239.10,273.51" fill="none" stroke="#988ED5" stroke-width="1.2" stroke-linejoin="round"/>
<polyline points="47.44,397.22 49.37,347.35 51.31,321.20 53.24,314.36 55.18,310.99 57.12,309.43 59.05,307.34 60.99,308.89 62.92,305.72 64.86,307.36 66.80,305.45 68.73,302.42 70.67,301.02 72.60,301.79 74.54,297.81 76.48,298.14 78.41,299.65 80.35,298.22 82.28,298.61 84.22,296.51 86.16,298.03 88.09,295.51 90.03,297.61 91.96,293.81 93.90,293.52 95.84,291.73 97.77,294.02 99.71,296.54 101.64,296.12 103.58,294.25 105.52,290.41 107.45,291.12 109.39,290.16 111.32,292.88 113.26,293.08 115.20,292.61 117.13,290.07 119.07,291.55 121.00,291.38 122.94,288.37 124.88,290.81 126.81,290.14 128.75,291.60 130.68,290.25 132.62,288.13 134.56,286.79 136.49,289.88 138.43,292.24 140.36,288.40 142.30,285.45 144.24,287.78 146.17,286.93 148.11,286.84 150.04,289.77 151.98,291.22 153.92,287.85 155.85,285.99 157.79,288.21 159.72,287.11 161.66,287.37 163.60,287.63 165.53,288.10 167.47,284.66 169.40,285.22 171.34,285.66 173.28,286.10 175.21,284.93 177.15,285.79 179.08,285.03 181.02,286.08 182.96,284.74 184.89,285.22 186.83,284.07 188.76,286.71 190.70,286.36 192.64,286.89 194.57,283.11 196.51,285.12 198.44,284.98 200.38,287.35 202.32,286.99 204.25,288.00 206.19,286.07 208.12,286.75 210.06,283.41 212.00,285.89 213.93,283.97 215.87,285.06 217.80,284.48 219.74,286.38 221.68,285.74 223.61,285.73 225.55,286.65 227.48,285.03 229.42,287.50 231.36,286.38 233.29,286.11 235.23,285.64 237.16,287.29 239.10,285.21" fill="none" stroke="#777777" stroke-width="1.2" stroke-linejoin="round"/>
<polyline points="47.44,414.82 49.37,357.49 51.31,324.43 53.24,316.41 55.18,309.34 57.12,305.63 59.05,303.45 60.99,302.90 62.92,299.86 64.86,298.34 66.80,298.85 68.73,298.40 70.67,296.96 72.60,296.91 74.54,296.11 76.48,294.83 78.41,294.14 80.35,294.85 82.28,294.72 84.22,294.47 86.16,293.75 88.09,293.21 90.03,293.14 91.96,292.06 93.90,292.03 95.84,291.89 97.77,293.13 99.71,292.94 101.64,292.25 103.58,291.16 105.52,291.57 107.45,289.84 109.39,290.21 111.32,290.12 113.26,290.08 115.20,289.72 117.13,289.23 119.07,290.06 121.00,288.72 122.94,289.92 124.88,289.28 126.81,289.53 128.75,289.51 130.68,288.84 132.62,288.91 134.56,287.86 136.49,288.99 138.43,288.54 140.36,288.30 142.30,287.07 144.24,287.01 146.17,287.58 148.11,287.00 150.04,287.36 151.98,288.58 153.92,288.14 155.85,287.38 157.79,288.40 159.72,287.25 161.66,287.73 163.60,288.58 165.53,288.06 167.47,289.35 169.40,289.11 171.34,289.29 173.28,288.25 175.21,289.02 177.15,289.64 179.08,288.49 181.02,288.70 182.96,288.94 184.89,288.92 186.83,287.74 188.76,288.02 190.70,288.75 192.64,286.42 194.57,287.33 196.51,286.56 198.44,286.91 200.38,286.76 202.32,288.29 204.25,288.50 206.19,287.67 208.12,287.91 210.06,287.84 212.00,287.07 213.93,289.23 215.87,288.45 217.80,286.85 219.74,287.78 221.68,287.66 223.61,287.36 225.55,287.29 227.48,287.25 229.42,288.10 231.36,287.43 233.29,287.87 235.23,286.42 237.16,287.53 239.10,287.22" fill="none" stroke="#FBC15E" stroke-width="1.2" stroke-linejoin="round"/>
<line x1="45.50" y1="421.10" x2="45.50" y2="423.40" stroke="#777" stroke-width="0.6"/>
<text x="45.50" y="430.70" class="tk" text-anchor="middle" textLength="3.75" lengthAdjust="spacingAndGlyphs">0</text>
<line x1="84.22" y1="421.10" x2="84.22" y2="423.40" stroke="#777" stroke-width="0.6"/>
<text x="84.22" y="430.70" class="tk" text-anchor="middle" textLength="7.49" lengthAdjust="spacingAndGlyphs">20</text>
<line x1="122.94" y1="421.10" x2="122.94" y2="423.40" stroke="#777" stroke-width="0.6"/>
<text x="122.94" y="430.70" class="tk" text-anchor="middle" textLength="7.49" lengthAdjust="spacingAndGlyphs">40</text>
<line x1="161.66" y1="421.10" x2="161.66" y2="423.40" stroke="#777" stroke-width="0.6"/>
<text x="161.66" y="430.70" class="tk" text-anchor="middle" textLength="7.49" lengthAdjust="spacingAndGlyphs">60</text>
<line x1="200.38" y1="421.10" x2="200.38" y2="423.40" stroke="#777" stroke-width="0.6"/>
<text x="200.38" y="430.70" class="tk" text-anchor="middle" textLength="7.49" lengthAdjust="spacingAndGlyphs">80</text>
<line x1="239.10" y1="421.10" x2="239.10" y2="423.40" stroke="#777" stroke-width="0.6"/>
<text x="239.10" y="430.70" class="tk" text-anchor="middle" textLength="11.24" lengthAdjust="spacingAndGlyphs">100</text>
<line x1="35.25" y1="407.21" x2="37.65" y2="407.21" stroke="#777" stroke-width="0.6"/>
<text x="33.35" y="409.71" class="tk" text-anchor="end" textLength="9.37" lengthAdjust="spacingAndGlyphs">0.4</text>
<line x1="35.25" y1="383.43" x2="37.65" y2="383.43" stroke="#777" stroke-width="0.6"/>
<text x="33.35" y="385.93" class="tk" text-anchor="end" textLength="9.37" lengthAdjust="spacingAndGlyphs">0.5</text>
<line x1="35.25" y1="359.65" x2="37.65" y2="359.65" stroke="#777" stroke-width="0.6"/>
<text x="33.35" y="362.15" class="tk" text-anchor="end" textLength="9.37" lengthAdjust="spacingAndGlyphs">0.6</text>
<line x1="35.25" y1="335.87" x2="37.65" y2="335.87" stroke="#777" stroke-width="0.6"/>
<text x="33.35" y="338.37" class="tk" text-anchor="end" textLength="9.37" lengthAdjust="spacingAndGlyphs">0.7</text>
<line x1="35.25" y1="312.09" x2="37.65" y2="312.09" stroke="#777" stroke-width="0.6"/>
<text x="33.35" y="314.59" class="tk" text-anchor="end" textLength="9.37" lengthAdjust="spacingAndGlyphs">0.8</text>
<line x1="35.25" y1="288.31" x2="37.65" y2="288.31" stroke="#777" stroke-width="0.6"/>
<text x="33.35" y="290.81" class="tk" text-anchor="end" textLength="9.37" lengthAdjust="spacingAndGlyphs">0.9</text>
<text x="143.27" y="440.10" class="lb" text-anchor="middle" textLength="25.33" lengthAdjust="spacingAndGlyphs">Epochs</text>
<text x="0" y="0" class="lb" text-anchor="middle" textLength="32.28" lengthAdjust="spacingAndGlyphs" transform="translate(18.99,343.80) rotate(-90)">Accuracy</text>
<rect x="179.18" y="319.80" width="66.60" height="46.20" fill="#E5E5E5" fill-opacity="0.85" stroke="none" rx="1.5"/>
<line x1="181.68" y1="325.20" x2="194.38" y2="325.20" stroke="#E24A33" stroke-width="1.25"/>
<text x="199.28" y="327.30" class="lg" textLength="9.07" lengthAdjust="spacingAndGlyphs">HO</text>
<line x1="181.68" y1="334.05" x2="194.38" y2="334.05" stroke="#348ABD" stroke-width="1.25"/>
<text x="199.28" y="336.15" class="lg" textLength="44.18" lengthAdjust="spacingAndGlyphs">KFold 10- fold0</text>
<line x1="181.68" y1="342.90" x2="194.38" y2="342.90" stroke="#988ED5" stroke-width="1.25"/>
<text x="199.28" y="345.00" class="lg" textLength="44.18" lengthAdjust="spacingAndGlyphs">KFold 10- fold3</text>
<line x1="181.68" y1="351.75" x2="194.38" y2="351.75" stroke="#777777" stroke-width="1.25"/>
<text x="199.28" y="353.85" class="lg" textLength="17.86" lengthAdjust="spacingAndGlyphs">SCDIS</text>
<line x1="181.68" y1="360.60" x2="194.38" y2="360.60" stroke="#FBC15E" stroke-width="1.25"/>
<text x="199.28" y="362.70" class="lg" textLength="16.61" lengthAdjust="spacingAndGlyphs">FSCIS</text>
<rect x="309.25" y="265.20" width="210.8304" height="155.6" fill="#E5E5E5"/>
<line x1="316.90" y1="265.20" x2="316.90" y2="420.80" stroke="#fff" stroke-opacity="0.8" stroke-width="1.0"/>
<line x1="355.62" y1="265.20" x2="355.62" y2="420.80" stroke="#fff" stroke-opacity="0.8" stroke-width="1.0"/>
<line x1="394.34" y1="265.20" x2="394.34" y2="420.80" stroke="#fff" stroke-opacity="0.8" stroke-width="1.0"/>
<line x1="433.06" y1="265.20" x2="433.06" y2="420.80" stroke="#fff" stroke-opacity="0.8" stroke-width="1.0"/>
<line x1="471.78" y1="265.20" x2="471.78" y2="420.80" stroke="#fff" stroke-opacity="0.8" stroke-width="1.0"/>
<line x1="510.50" y1="265.20" x2="510.50" y2="420.80" stroke="#fff" stroke-opacity="0.8" stroke-width="1.0"/>
<line x1="309.25" y1="414.47" x2="520.08" y2="414.47" stroke="#fff" stroke-opacity="0.8" stroke-width="1.0"/>
<line x1="309.25" y1="394.69" x2="520.08" y2="394.69" stroke="#fff" stroke-opacity="0.8" stroke-width="1.0"/>
<line x1="309.25" y1="374.90" x2="520.08" y2="374.90" stroke="#fff" stroke-opacity="0.8" stroke-width="1.0"/>
<line x1="309.25" y1="355.12" x2="520.08" y2="355.12" stroke="#fff" stroke-opacity="0.8" stroke-width="1.0"/>
<line x1="309.25" y1="335.33" x2="520.08" y2="335.33" stroke="#fff" stroke-opacity="0.8" stroke-width="1.0"/>
<line x1="309.25" y1="315.55" x2="520.08" y2="315.55" stroke="#fff" stroke-opacity="0.8" stroke-width="1.0"/>
<line x1="309.25" y1="295.77" x2="520.08" y2="295.77" stroke="#fff" stroke-opacity="0.8" stroke-width="1.0"/>
<line x1="309.25" y1="275.98" x2="520.08" y2="275.98" stroke="#fff" stroke-opacity="0.8" stroke-width="1.0"/>
<polyline points="318.84,340.77 320.77,351.60 322.71,357.68 324.64,363.80 326.58,367.66 328.52,371.01 330.45,373.03 332.39,375.25 334.32,376.55 336.26,379.24 338.20,379.40 340.13,380.68 342.07,382.96 344.00,383.66 345.94,384.71 347.88,386.88 349.81,386.58 351.75,387.65 353.68,388.20 355.62,388.98 357.56,389.50 359.49,389.73 361.43,390.14 363.36,391.58 365.30,391.58 367.24,392.49 369.17,392.95 371.11,392.77 373.04,392.23 374.98,392.42 376.92,393.42 378.85,393.98 380.79,394.42 382.72,394.17 384.66,393.81 386.60,394.44 388.53,394.43 390.47,394.84 392.40,394.44 394.34,396.59 396.28,397.49 398.21,396.78 400.15,396.24 402.08,396.87 404.02,396.72 405.96,397.79 407.89,398.31 409.83,398.30 411.76,397.52 413.70,397.52 415.64,398.49 417.57,398.40 419.51,399.00 421.44,398.92 423.38,399.70 425.32,399.41 427.25,399.79 429.19,399.57 431.12,399.95 433.06,400.23 435.00,399.84 436.93,400.06 438.87,399.99 440.80,400.29 442.74,399.84 444.68,400.62 446.61,399.99 448.55,399.53 450.48,400.40 452.42,399.54 454.36,399.17 456.29,400.06 458.23,401.46 460.16,402.10 462.10,401.49 464.04,400.22 465.97,400.67 467.91,400.79 469.84,401.52 471.78,402.12 473.72,401.73 475.65,402.59 477.59,402.39 479.52,402.00 481.46,402.26 483.40,402.13 485.33,402.75 487.27,402.41 489.20,402.50 491.14,403.83 493.08,403.95 495.01,403.88 496.95,403.12 498.88,403.19 500.82,403.30 502.76,403.47 504.69,403.33 506.63,403.18 508.56,404.10 510.50,405.06" fill="none" stroke="#E24A33" stroke-width="1.2" stroke-linejoin="round"/>
<polyline points="318.84,340.77 320.77,362.03 322.71,375.12 324.64,381.76 326.58,386.08 328.52,390.00 330.45,391.28 332.39,393.83 334.32,397.26 336.26,399.05 338.20,400.15 340.13,400.49 342.07,400.65 344.00,401.71 345.94,402.87 347.88,403.19 349.81,404.00 351.75,404.40 353.68,405.29 355.62,406.14 357.56,405.48 359.49,406.37 361.43,406.70 363.36,407.43 365.30,407.88 367.24,408.13 369.17,407.87 371.11,407.69 373.04,408.13 374.98,408.97 376.92,407.72 378.85,408.46 380.79,408.78 382.72,409.76 384.66,410.04 386.60,409.81 388.53,410.97 390.47,410.92 392.40,410.41 394.34,409.33 396.28,410.07 398.21,411.09 400.15,411.56 402.08,410.68 404.02,411.37 405.96,411.42 407.89,410.35 409.83,411.04 411.76,411.52 413.70,411.93 415.64,411.08 417.57,410.88 419.51,411.87 421.44,412.59 423.38,412.22 425.32,411.42 427.25,411.67 429.19,412.62 431.12,412.17 433.06,411.87 435.00,412.21 436.93,412.26 438.87,412.39 440.80,412.72 442.74,412.93 444.68,413.38 446.61,413.47 448.55,413.80 450.48,412.85 452.42,412.59" fill="none" stroke="#348ABD" stroke-width="1.2" stroke-linejoin="round"/>
<polyline points="318.84,327.22 320.77,352.47 322.71,366.66 324.64,374.95 326.58,380.48 328.52,382.76 330.45,385.31 332.39,387.03 334.32,388.11 336.26,390.26 338.20,392.51 340.13,393.85 342.07,394.20 344.00,396.27 345.94,396.73 347.88,397.31 349.81,398.62 351.75,398.76 353.68,398.99 355.62,400.08 357.56,400.60 359.49,400.58 361.43,401.80 363.36,402.25 365.30,401.77 367.24,402.30 369.17,403.40 371.11,403.22 373.04,402.41 374.98,404.06 376.92,403.59 378.85,403.66 380.79,404.31 382.72,404.29 384.66,405.07 386.60,404.35 388.53,404.15 390.47,405.49 392.40,405.68 394.34,405.67 396.28,406.15 398.21,405.91 400.15,406.63 402.08,406.14 404.02,406.53 405.96,406.61 407.89,406.48 409.83,406.30 411.76,407.28 413.70,406.78 415.64,406.67 417.57,407.22 419.51,406.64 421.44,407.69 423.38,407.98 425.32,407.69 427.25,408.22 429.19,407.44 431.12,407.89 433.06,407.36 435.00,408.66 436.93,409.08 438.87,408.15 440.80,409.14 442.74,408.46 444.68,409.27 446.61,409.06 448.55,408.62 450.48,409.18 452.42,409.95 454.36,409.93 456.29,409.19 458.23,409.51 460.16,409.42 462.10,409.77 464.04,409.83 465.97,410.10 467.91,410.62 469.84,410.03 471.78,410.06 473.72,411.17 475.65,410.55 477.59,409.91 479.52,409.27 481.46,410.73 483.40,410.47 485.33,410.20 487.27,410.04 489.20,410.74 491.14,410.38 493.08,410.75 495.01,410.70 496.95,410.96 498.88,410.64 500.82,410.91 502.76,410.68 504.69,410.82 506.63,410.39 508.56,409.91 510.50,410.65" fill="none" stroke="#988ED5" stroke-width="1.2" stroke-linejoin="round"/>
<polyline points="318.84,272.72 320.77,300.39 322.71,315.33 324.64,326.04 326.58,333.47 328.52,338.98 330.45,342.68 332.39,345.81 334.32,348.65 336.26,351.43 338.20,353.24 340.13,354.94 342.07,356.71 344.00,358.43 345.94,359.93 347.88,361.15 349.81,361.74 351.75,362.71 353.68,363.21 355.62,364.43 357.56,364.83 359.49,365.66 361.43,366.56 363.36,366.81 365.30,367.58 367.24,368.08 369.17,368.61 371.11,369.39 373.04,370.35 374.98,370.85 376.92,371.15 378.85,372.12 380.79,372.44 382.72,373.12 384.66,373.76 386.60,374.27 388.53,374.79 390.47,374.94 392.40,375.03 394.34,375.98 396.28,376.01 398.21,376.06 400.15,376.46 402.08,376.45 404.02,377.10 405.96,377.05 407.89,377.19 409.83,377.55 411.76,378.17 413.70,377.80 415.64,378.46 417.57,378.61 419.51,379.26 421.44,379.54 423.38,379.47 425.32,380.13 427.25,379.94 429.19,379.66 431.12,380.66 433.06,380.78 435.00,380.63 436.93,381.08 438.87,381.01 440.80,381.33 442.74,382.10 444.68,382.74 446.61,382.38 448.55,382.06 450.48,382.62 452.42,382.30 454.36,383.16 456.29,382.89 458.23,383.17 460.16,383.36 462.10,383.61 464.04,383.89 465.97,383.90 467.91,384.31 469.84,383.93 471.78,384.54 473.72,384.29 475.65,384.81 477.59,385.14 479.52,384.75 481.46,384.81 483.40,385.01 485.33,384.65 487.27,385.38 489.20,385.19 491.14,385.40 493.08,385.14 495.01,385.97 496.95,386.10 498.88,386.27 500.82,386.51 502.76,386.85 504.69,386.66 506.63,386.70 508.56,386.98 510.50,386.95" fill="none" stroke="#777777" stroke-width="1.2" stroke-linejoin="round"/>
<polyline points="318.84,272.72 320.77,306.35 322.71,325.91 324.64,337.10 326.58,343.55 328.52,348.69 330.45,352.75 332.39,355.79 334.32,358.47 336.26,360.96 338.20,363.25 340.13,365.32 342.07,366.19 344.00,367.85 345.94,369.19 347.88,370.62 349.81,371.80 351.75,372.57 353.68,373.40 355.62,374.65 357.56,375.55 359.49,376.42 361.43,377.31 363.36,378.05 365.30,378.63 367.24,379.55 369.17,379.40 371.11,380.41 373.04,380.85 374.98,380.88 376.92,381.65 378.85,382.09 380.79,382.41 382.72,382.58 384.66,383.43 386.60,383.47 388.53,384.25 390.47,384.12 392.40,384.47 394.34,384.92 396.28,385.45 398.21,385.45 400.15,385.79 402.08,386.03 404.02,386.82 405.96,386.99 407.89,387.17 409.83,387.36 411.76,388.05 413.70,388.44 415.64,388.31 417.57,388.63 419.51,388.77 421.44,389.25 423.38,389.32 425.32,389.70 427.25,390.03 429.19,390.28 431.12,390.21 433.06,390.73 435.00,391.07 436.93,391.13 438.87,391.06 440.80,391.11 442.74,391.26 444.68,391.39 446.61,391.86 448.55,392.11 450.48,391.92 452.42,392.32 454.36,392.49 456.29,392.91 458.23,392.88 460.16,393.33 462.10,393.43 464.04,393.53 465.97,393.63 467.91,393.58 469.84,393.61 471.78,393.68 473.72,393.95 475.65,394.24 477.59,394.31 479.52,394.47 481.46,394.68 483.40,394.32 485.33,394.86 487.27,394.71 489.20,394.98 491.14,395.39 493.08,394.83 495.01,395.21 496.95,395.54 498.88,395.03 500.82,395.46 502.76,395.58 504.69,395.39 506.63,395.91 508.56,396.13 510.50,395.92" fill="none" stroke="#FBC15E" stroke-width="1.2" stroke-linejoin="round"/>
<line x1="316.90" y1="420.80" x2="316.90" y2="423.10" stroke="#777" stroke-width="0.6"/>
<text x="316.90" y="430.40" class="tk" text-anchor="middle" textLength="3.75" lengthAdjust="spacingAndGlyphs">0</text>
<line x1="355.62" y1="420.80" x2="355.62" y2="423.10" stroke="#777" stroke-width="0.6"/>
<text x="355.62" y="430.40" class="tk" text-anchor="middle" textLength="7.49" lengthAdjust="spacingAndGlyphs">20</text>
<line x1="394.34" y1="420.80" x2="394.34" y2="423.10" stroke="#777" stroke-width="0.6"/>
<text x="394.34" y="430.40" class="tk" text-anchor="middle" textLength="7.49" lengthAdjust="spacingAndGlyphs">40</text>
<line x1="433.06" y1="420.80" x2="433.06" y2="423.10" stroke="#777" stroke-width="0.6"/>
<text x="433.06" y="430.40" class="tk" text-anchor="middle" textLength="7.49" lengthAdjust="spacingAndGlyphs">60</text>
<line x1="471.78" y1="420.80" x2="471.78" y2="423.10" stroke="#777" stroke-width="0.6"/>
<text x="471.78" y="430.40" class="tk" text-anchor="middle" textLength="7.49" lengthAdjust="spacingAndGlyphs">80</text>
<line x1="510.50" y1="420.80" x2="510.50" y2="423.10" stroke="#777" stroke-width="0.6"/>
<text x="510.50" y="430.40" class="tk" text-anchor="middle" textLength="11.24" lengthAdjust="spacingAndGlyphs">100</text>
<line x1="306.65" y1="414.47" x2="309.05" y2="414.47" stroke="#777" stroke-width="0.6"/>
<text x="304.75" y="416.97" class="tk" text-anchor="end" textLength="9.37" lengthAdjust="spacingAndGlyphs">0.2</text>
<line x1="306.65" y1="394.69" x2="309.05" y2="394.69" stroke="#777" stroke-width="0.6"/>
<text x="304.75" y="397.19" class="tk" text-anchor="end" textLength="9.37" lengthAdjust="spacingAndGlyphs">0.4</text>
<line x1="306.65" y1="374.90" x2="309.05" y2="374.90" stroke="#777" stroke-width="0.6"/>
<text x="304.75" y="377.40" class="tk" text-anchor="end" textLength="9.37" lengthAdjust="spacingAndGlyphs">0.6</text>
<line x1="306.65" y1="355.12" x2="309.05" y2="355.12" stroke="#777" stroke-width="0.6"/>
<text x="304.75" y="357.62" class="tk" text-anchor="end" textLength="9.37" lengthAdjust="spacingAndGlyphs">0.8</text>
<line x1="306.65" y1="335.33" x2="309.05" y2="335.33" stroke="#777" stroke-width="0.6"/>
<text x="304.75" y="337.83" class="tk" text-anchor="end" textLength="9.37" lengthAdjust="spacingAndGlyphs">1.0</text>
<line x1="306.65" y1="315.55" x2="309.05" y2="315.55" stroke="#777" stroke-width="0.6"/>
<text x="304.75" y="318.05" class="tk" text-anchor="end" textLength="9.37" lengthAdjust="spacingAndGlyphs">1.2</text>
<line x1="306.65" y1="295.77" x2="309.05" y2="295.77" stroke="#777" stroke-width="0.6"/>
<text x="304.75" y="298.27" class="tk" text-anchor="end" textLength="9.37" lengthAdjust="spacingAndGlyphs">1.4</text>
<line x1="306.65" y1="275.98" x2="309.05" y2="275.98" stroke="#777" stroke-width="0.6"/>
<text x="304.75" y="278.48" class="tk" text-anchor="end" textLength="9.37" lengthAdjust="spacingAndGlyphs">1.6</text>
<text x="414.67" y="439.80" class="lb" text-anchor="middle" textLength="25.33" lengthAdjust="spacingAndGlyphs">Epochs</text>
<text x="0" y="0" class="lb" text-anchor="middle" textLength="15.51" lengthAdjust="spacingAndGlyphs" transform="translate(292.09,343.50) rotate(-90)">Loss</text>
<rect x="450.58" y="319.50" width="66.60" height="46.20" fill="#E5E5E5" fill-opacity="0.85" stroke="none" rx="1.5"/>
<line x1="453.08" y1="324.90" x2="465.78" y2="324.90" stroke="#E24A33" stroke-width="1.25"/>
<text x="470.68" y="327.00" class="lg" textLength="9.07" lengthAdjust="spacingAndGlyphs">HO</text>
<line x1="453.08" y1="333.75" x2="465.78" y2="333.75" stroke="#348ABD" stroke-width="1.25"/>
<text x="470.68" y="335.85" class="lg" textLength="44.18" lengthAdjust="spacingAndGlyphs">KFold 10- fold0</text>
<line x1="453.08" y1="342.60" x2="465.78" y2="342.60" stroke="#988ED5" stroke-width="1.25"/>
<text x="470.68" y="344.70" class="lg" textLength="44.18" lengthAdjust="spacingAndGlyphs">KFold 10- fold3</text>
<line x1="453.08" y1="351.45" x2="465.78" y2="351.45" stroke="#777777" stroke-width="1.25"/>
<text x="470.68" y="353.55" class="lg" textLength="17.86" lengthAdjust="spacingAndGlyphs">SCDIS</text>
<line x1="453.08" y1="360.30" x2="465.78" y2="360.30" stroke="#FBC15E" stroke-width="1.25"/>
<text x="470.68" y="362.40" class="lg" textLength="16.61" lengthAdjust="spacingAndGlyphs">FSCIS</text>
<rect x="36.25" y="507.90" width="210.8304" height="155.6" fill="#E5E5E5"/>
<line x1="43.90" y1="507.90" x2="43.90" y2="663.50" stroke="#fff" stroke-opacity="0.8" stroke-width="1.0"/>
<line x1="82.62" y1="507.90" x2="82.62" y2="663.50" stroke="#fff" stroke-opacity="0.8" stroke-width="1.0"/>
<line x1="121.34" y1="507.90" x2="121.34" y2="663.50" stroke="#fff" stroke-opacity="0.8" stroke-width="1.0"/>
<line x1="160.06" y1="507.90" x2="160.06" y2="663.50" stroke="#fff" stroke-opacity="0.8" stroke-width="1.0"/>
<line x1="198.78" y1="507.90" x2="198.78" y2="663.50" stroke="#fff" stroke-opacity="0.8" stroke-width="1.0"/>
<line x1="237.50" y1="507.90" x2="237.50" y2="663.50" stroke="#fff" stroke-opacity="0.8" stroke-width="1.0"/>
<line x1="36.25" y1="652.22" x2="247.08" y2="652.22" stroke="#fff" stroke-opacity="0.8" stroke-width="1.0"/>
<line x1="36.25" y1="634.18" x2="247.08" y2="634.18" stroke="#fff" stroke-opacity="0.8" stroke-width="1.0"/>
<line x1="36.25" y1="616.14" x2="247.08" y2="616.14" stroke="#fff" stroke-opacity="0.8" stroke-width="1.0"/>
<line x1="36.25" y1="598.10" x2="247.08" y2="598.10" stroke="#fff" stroke-opacity="0.8" stroke-width="1.0"/>
<line x1="36.25" y1="580.06" x2="247.08" y2="580.06" stroke="#fff" stroke-opacity="0.8" stroke-width="1.0"/>
<line x1="36.25" y1="562.02" x2="247.08" y2="562.02" stroke="#fff" stroke-opacity="0.8" stroke-width="1.0"/>
<line x1="36.25" y1="543.98" x2="247.08" y2="543.98" stroke="#fff" stroke-opacity="0.8" stroke-width="1.0"/>
<line x1="36.25" y1="525.94" x2="247.08" y2="525.94" stroke="#fff" stroke-opacity="0.8" stroke-width="1.0"/>
<line x1="36.25" y1="507.90" x2="247.08" y2="507.90" stroke="#fff" stroke-opacity="0.8" stroke-width="1.0"/>
<polyline points="45.84,635.99 47.77,618.79 49.71,605.00 51.64,592.69 53.58,589.35 55.52,572.46 57.45,569.35 59.39,568.05 61.32,565.75 63.26,562.91 65.20,558.38 67.13,549.31 69.07,548.34 71.00,551.66 72.94,549.93 74.88,539.36 76.81,542.33 78.75,547.78 80.68,544.76 82.62,545.14 84.56,542.45 86.49,539.25 88.43,542.87 90.36,540.02 92.30,538.80 94.24,537.55 96.17,541.98 98.11,539.86 100.04,531.32 101.98,538.51 103.92,537.14 105.85,535.10 107.79,538.23 109.72,537.02 111.66,529.04 113.60,529.92 115.53,538.14 117.47,533.49 119.40,537.96 121.34,538.42 123.28,532.48 125.21,526.60 127.15,532.02 129.08,526.05 131.02,534.80 132.96,530.14 134.89,530.12 136.83,529.89 138.76,526.41 140.70,527.72 142.64,531.57 144.57,534.27 146.51,531.20 148.44,529.09 150.38,530.82 152.32,534.15 154.25,534.82 156.19,525.33 158.12,527.15 160.06,530.00 162.00,526.12 163.93,525.75 165.87,528.12 167.80,528.72 169.74,522.87 171.68,523.76 173.61,521.46 175.55,522.77 177.48,525.28 179.42,527.64 181.36,527.05 183.29,527.76 185.23,525.19 187.16,524.48 189.10,520.84 191.04,520.00 192.97,524.71 194.91,523.03 196.84,528.48 198.78,526.48 200.72,527.75 202.65,523.18 204.59,525.39 206.52,526.04 208.46,523.17 210.40,529.64 212.33,523.09 214.27,520.96 216.20,518.02 218.14,526.58 220.08,523.77 222.01,529.50 223.95,517.18 225.88,522.57 227.82,520.91 229.76,527.11 231.69,522.42 233.63,523.61 235.56,525.67 237.50,525.43" fill="none" stroke="#E24A33" stroke-width="1.2" stroke-linejoin="round"/>
<polyline points="45.84,635.99 47.77,623.50 49.71,602.27 51.64,591.10 53.58,591.61 55.52,581.15 57.45,569.23 59.39,564.97 61.32,560.91 63.26,561.27 65.20,552.61 67.13,550.78 69.07,551.33 71.00,545.63 72.94,546.27 74.88,549.43 76.81,544.25 78.75,548.34 80.68,541.05 82.62,543.77 84.56,543.66 86.49,544.88 88.43,537.47 90.36,541.91 92.30,542.40 94.24,541.64 96.17,537.78 98.11,537.74 100.04,536.95 101.98,536.28 103.92,529.53 105.85,538.16 107.79,537.99 109.72,538.55 111.66,532.88 113.60,530.53 115.53,534.57 117.47,536.76 119.40,536.28 121.34,530.55 123.28,529.81 125.21,530.14 127.15,534.12 129.08,530.51 131.02,530.57 132.96,529.84 134.89,527.27 136.83,529.40 138.76,527.54 140.70,529.55 142.64,528.55 144.57,527.12 146.51,534.46 148.44,530.17 150.38,530.53 152.32,530.95 154.25,529.45 156.19,522.87 158.12,531.20 160.06,524.40 162.00,533.78 163.93,528.74 165.87,526.77 167.80,525.07 169.74,524.44 171.68,523.98 173.61,527.89 175.55,528.09 177.48,523.12 179.42,526.71 181.36,530.42 183.29,529.71 185.23,528.74 187.16,523.44 189.10,524.53 191.04,522.37 192.97,526.19 194.91,523.87 196.84,521.98 198.78,525.15 200.72,522.19 202.65,526.03 204.59,524.75 206.52,524.63 208.46,527.38 210.40,521.12 212.33,524.43 214.27,522.55 216.20,520.73 218.14,520.72 220.08,519.80 222.01,522.42 223.95,523.46 225.88,522.10 227.82,527.77 229.76,526.78 231.69,526.21 233.63,524.91 235.56,519.75 237.50,524.34" fill="none" stroke="#348ABD" stroke-width="1.2" stroke-linejoin="round"/>
<polyline points="45.84,635.99 47.77,618.10 49.71,606.19 51.64,596.75 53.58,589.46 55.52,574.67 57.45,569.47 59.39,563.32 61.32,562.64 63.26,555.49 65.20,553.30 67.13,553.63 69.07,552.88 71.00,550.66 72.94,549.93 74.88,546.46 76.81,547.04 78.75,543.65 80.68,544.94 82.62,544.49 84.56,539.48 86.49,543.77 88.43,545.69 90.36,540.88 92.30,545.68 94.24,540.24 96.17,537.39 98.11,538.66 100.04,538.37 101.98,542.64 103.92,536.43 105.85,535.68 107.79,538.79 109.72,531.39 111.66,537.55 113.60,538.78 115.53,538.82 117.47,534.13 119.40,532.55 121.34,531.78 123.28,533.17 125.21,534.08 127.15,529.94 129.08,533.28 131.02,534.02" fill="none" stroke="#988ED5" stroke-width="1.2" stroke-linejoin="round"/>
<polyline points="45.84,655.83 47.77,645.22 49.71,638.42 51.64,629.51 53.58,625.99 55.52,623.07 57.45,622.12 59.39,620.60 61.32,612.20 63.26,612.39 65.20,604.83 67.13,604.56 69.07,605.50 71.00,599.52 72.94,595.76 74.88,595.66 76.81,597.10 78.75,591.41 80.68,589.26 82.62,585.86 84.56,584.60 86.49,588.93 88.43,585.96 90.36,580.55 92.30,587.50 94.24,577.26 96.17,581.67 98.11,578.79 100.04,570.74 101.98,574.90 103.92,574.52 105.85,571.22 107.79,571.41 109.72,572.21 111.66,567.96 113.60,560.08 115.53,563.59 117.47,564.46 119.40,564.27 121.34,561.50 123.28,561.33 125.21,565.89 127.15,560.21 129.08,561.11 131.02,554.38 132.96,560.62 134.89,554.71 136.83,562.78 138.76,556.87 140.70,559.98 142.64,559.99 144.57,553.43 146.51,559.25 148.44,555.65 150.38,557.15 152.32,552.66 154.25,552.65 156.19,561.05 158.12,550.29 160.06,554.62 162.00,544.77 163.93,548.43 165.87,547.79 167.80,559.35 169.74,544.16 171.68,549.87 173.61,554.40 175.55,548.11 177.48,544.24 179.42,554.10 181.36,544.30 183.29,548.84 185.23,549.32 187.16,548.45 189.10,549.52 191.04,545.54 192.97,545.11 194.91,542.08 196.84,540.57 198.78,546.41 200.72,541.24 202.65,548.91 204.59,542.34 206.52,548.22 208.46,546.11 210.40,541.78 212.33,546.24 214.27,541.64 216.20,548.22 218.14,545.33 220.08,540.70 222.01,537.04 223.95,546.12 225.88,536.27 227.82,540.63 229.76,533.37 231.69,542.12 233.63,542.59 235.56,539.44 237.50,544.13" fill="none" stroke="#777777" stroke-width="1.2" stroke-linejoin="round"/>
<polyline points="45.84,655.83 47.77,651.25 49.71,644.52 51.64,636.72 53.58,636.24 55.52,631.43 57.45,626.45 59.39,622.40 61.32,625.05 63.26,617.39 65.20,616.67 67.13,616.51 69.07,613.27 71.00,608.39 72.94,608.13 74.88,606.97 76.81,599.12 78.75,594.32 80.68,595.88 82.62,590.33 84.56,592.54 86.49,592.88 88.43,593.04 90.36,588.85 92.30,579.06 94.24,583.59 96.17,587.59 98.11,579.36 100.04,579.14 101.98,577.90 103.92,576.99 105.85,576.26 107.79,573.14 109.72,576.97 111.66,573.23 113.60,568.98 115.53,564.15 117.47,564.39 119.40,558.52 121.34,560.02 123.28,570.30 125.21,560.90 127.15,558.51 129.08,560.48 131.02,567.26 132.96,561.17 134.89,562.18 136.83,557.28 138.76,553.85 140.70,555.08 142.64,560.57 144.57,553.41 146.51,555.68 148.44,551.58 150.38,555.70 152.32,553.39 154.25,553.92 156.19,554.08 158.12,547.44 160.06,549.26 162.00,550.57 163.93,556.70 165.87,553.84 167.80,550.90 169.74,548.48 171.68,556.41 173.61,546.85 175.55,553.52 177.48,553.47 179.42,544.93 181.36,550.53 183.29,546.76 185.23,544.03 187.16,545.09 189.10,550.89 191.04,548.73 192.97,548.36 194.91,544.29 196.84,544.02 198.78,540.76 200.72,542.46 202.65,540.39 204.59,544.10 206.52,544.11 208.46,548.08 210.40,544.47 212.33,548.08 214.27,544.85 216.20,536.30 218.14,540.74 220.08,541.27 222.01,541.76 223.95,543.06 225.88,541.44 227.82,537.34 229.76,544.74 231.69,543.17 233.63,544.07 235.56,541.88 237.50,531.05" fill="none" stroke="#FBC15E" stroke-width="1.2" stroke-linejoin="round"/>
<line x1="43.90" y1="663.50" x2="43.90" y2="665.80" stroke="#777" stroke-width="0.6"/>
<text x="43.90" y="673.10" class="tk" text-anchor="middle" textLength="3.75" lengthAdjust="spacingAndGlyphs">0</text>
<line x1="82.62" y1="663.50" x2="82.62" y2="665.80" stroke="#777" stroke-width="0.6"/>
<text x="82.62" y="673.10" class="tk" text-anchor="middle" textLength="7.49" lengthAdjust="spacingAndGlyphs">20</text>
<line x1="121.34" y1="663.50" x2="121.34" y2="665.80" stroke="#777" stroke-width="0.6"/>
<text x="121.34" y="673.10" class="tk" text-anchor="middle" textLength="7.49" lengthAdjust="spacingAndGlyphs">40</text>
<line x1="160.06" y1="663.50" x2="160.06" y2="665.80" stroke="#777" stroke-width="0.6"/>
<text x="160.06" y="673.10" class="tk" text-anchor="middle" textLength="7.49" lengthAdjust="spacingAndGlyphs">60</text>
<line x1="198.78" y1="663.50" x2="198.78" y2="665.80" stroke="#777" stroke-width="0.6"/>
<text x="198.78" y="673.10" class="tk" text-anchor="middle" textLength="7.49" lengthAdjust="spacingAndGlyphs">80</text>
<line x1="237.50" y1="663.50" x2="237.50" y2="665.80" stroke="#777" stroke-width="0.6"/>
<text x="237.50" y="673.10" class="tk" text-anchor="middle" textLength="11.24" lengthAdjust="spacingAndGlyphs">100</text>
<line x1="33.65" y1="652.22" x2="36.05" y2="652.22" stroke="#777" stroke-width="0.6"/>
<text x="31.75" y="654.72" class="tk" text-anchor="end" textLength="9.37" lengthAdjust="spacingAndGlyphs">0.1</text>
<line x1="33.65" y1="634.18" x2="36.05" y2="634.18" stroke="#777" stroke-width="0.6"/>
<text x="31.75" y="636.68" class="tk" text-anchor="end" textLength="9.37" lengthAdjust="spacingAndGlyphs">0.2</text>
<line x1="33.65" y1="616.14" x2="36.05" y2="616.14" stroke="#777" stroke-width="0.6"/>
<text x="31.75" y="618.64" class="tk" text-anchor="end" textLength="9.37" lengthAdjust="spacingAndGlyphs">0.3</text>
<line x1="33.65" y1="598.10" x2="36.05" y2="598.10" stroke="#777" stroke-width="0.6"/>
<text x="31.75" y="600.60" class="tk" text-anchor="end" textLength="9.37" lengthAdjust="spacingAndGlyphs">0.4</text>
<line x1="33.65" y1="580.06" x2="36.05" y2="580.06" stroke="#777" stroke-width="0.6"/>
<text x="31.75" y="582.56" class="tk" text-anchor="end" textLength="9.37" lengthAdjust="spacingAndGlyphs">0.5</text>
<line x1="33.65" y1="562.02" x2="36.05" y2="562.02" stroke="#777" stroke-width="0.6"/>
<text x="31.75" y="564.52" class="tk" text-anchor="end" textLength="9.37" lengthAdjust="spacingAndGlyphs">0.6</text>
<line x1="33.65" y1="543.98" x2="36.05" y2="543.98" stroke="#777" stroke-width="0.6"/>
<text x="31.75" y="546.48" class="tk" text-anchor="end" textLength="9.37" lengthAdjust="spacingAndGlyphs">0.7</text>
<line x1="33.65" y1="525.94" x2="36.05" y2="525.94" stroke="#777" stroke-width="0.6"/>
<text x="31.75" y="528.44" class="tk" text-anchor="end" textLength="9.37" lengthAdjust="spacingAndGlyphs">0.8</text>
<line x1="33.65" y1="507.90" x2="36.05" y2="507.90" stroke="#777" stroke-width="0.6"/>
<text x="31.75" y="510.40" class="tk" text-anchor="end" textLength="9.37" lengthAdjust="spacingAndGlyphs">0.9</text>
<text x="141.67" y="682.50" class="lb" text-anchor="middle" textLength="25.33" lengthAdjust="spacingAndGlyphs">Epochs</text>
<text x="0" y="0" class="lb" text-anchor="middle" textLength="32.28" lengthAdjust="spacingAndGlyphs" transform="translate(17.39,586.20) rotate(-90)">Accuracy</text>
<rect x="177.58" y="562.20" width="66.60" height="46.20" fill="#E5E5E5" fill-opacity="0.85" stroke="none" rx="1.5"/>
<line x1="180.08" y1="567.60" x2="192.78" y2="567.60" stroke="#E24A33" stroke-width="1.25"/>
<text x="197.68" y="569.70" class="lg" textLength="9.07" lengthAdjust="spacingAndGlyphs">HO</text>
<line x1="180.08" y1="576.45" x2="192.78" y2="576.45" stroke="#348ABD" stroke-width="1.25"/>
<text x="197.68" y="578.55" class="lg" textLength="44.18" lengthAdjust="spacingAndGlyphs">KFold 10- fold3</text>
<line x1="180.08" y1="585.30" x2="192.78" y2="585.30" stroke="#988ED5" stroke-width="1.25"/>
<text x="197.68" y="587.40" class="lg" textLength="44.18" lengthAdjust="spacingAndGlyphs">KFold 10- fold7</text>
<line x1="180.08" y1="594.15" x2="192.78" y2="594.15" stroke="#777777" stroke-width="1.25"/>
<text x="197.68" y="596.25" class="lg" textLength="17.86" lengthAdjust="spacingAndGlyphs">SCDIS</text>
<line x1="180.08" y1="603.00" x2="192.78" y2="603.00" stroke="#FBC15E" stroke-width="1.25"/>
<text x="197.68" y="605.10" class="lg" textLength="16.61" lengthAdjust="spacingAndGlyphs">FSCIS</text>
<rect x="308.45" y="507.60" width="210.8304" height="155.6" fill="#E5E5E5"/>
<line x1="316.10" y1="507.60" x2="316.10" y2="663.20" stroke="#fff" stroke-opacity="0.8" stroke-width="1.0"/>
<line x1="354.82" y1="507.60" x2="354.82" y2="663.20" stroke="#fff" stroke-opacity="0.8" stroke-width="1.0"/>
<line x1="393.54" y1="507.60" x2="393.54" y2="663.20" stroke="#fff" stroke-opacity="0.8" stroke-width="1.0"/>
<line x1="432.26" y1="507.60" x2="432.26" y2="663.20" stroke="#fff" stroke-opacity="0.8" stroke-width="1.0"/>
<line x1="470.98" y1="507.60" x2="470.98" y2="663.20" stroke="#fff" stroke-opacity="0.8" stroke-width="1.0"/>
<line x1="509.70" y1="507.60" x2="509.70" y2="663.20" stroke="#fff" stroke-opacity="0.8" stroke-width="1.0"/>
<line x1="308.45" y1="648.70" x2="519.28" y2="648.70" stroke="#fff" stroke-opacity="0.8" stroke-width="1.0"/>
<line x1="308.45" y1="631.06" x2="519.28" y2="631.06" stroke="#fff" stroke-opacity="0.8" stroke-width="1.0"/>
<line x1="308.45" y1="613.43" x2="519.28" y2="613.43" stroke="#fff" stroke-opacity="0.8" stroke-width="1.0"/>
<line x1="308.45" y1="595.79" x2="519.28" y2="595.79" stroke="#fff" stroke-opacity="0.8" stroke-width="1.0"/>
<line x1="308.45" y1="578.15" x2="519.28" y2="578.15" stroke="#fff" stroke-opacity="0.8" stroke-width="1.0"/>
<line x1="308.45" y1="560.51" x2="519.28" y2="560.51" stroke="#fff" stroke-opacity="0.8" stroke-width="1.0"/>
<line x1="308.45" y1="542.88" x2="519.28" y2="542.88" stroke="#fff" stroke-opacity="0.8" stroke-width="1.0"/>
<line x1="308.45" y1="525.24" x2="519.28" y2="525.24" stroke="#fff" stroke-opacity="0.8" stroke-width="1.0"/>
<line x1="308.45" y1="507.60" x2="519.28" y2="507.60" stroke="#fff" stroke-opacity="0.8" stroke-width="1.0"/>
<polyline points="318.04,540.23 319.97,552.99 321.91,558.73 323.84,563.49 325.78,571.02 327.72,576.76 329.65,580.37 331.59,579.67 333.52,585.65 335.46,589.96 337.40,591.17 339.33,593.27 341.27,596.10 343.20,596.29 345.14,601.82 347.08,606.62 349.01,603.72 350.95,606.81 352.88,608.46 354.82,611.47 356.76,613.57 358.69,610.80 360.63,616.56 362.56,616.78 364.50,618.67 366.44,615.74 368.37,618.24 370.31,621.10 372.24,620.06 374.18,618.91 376.12,624.29 378.05,625.56 379.99,624.46 381.92,625.40 383.86,628.46 385.80,628.73 387.73,628.34 389.67,627.46 391.60,631.66 393.54,629.19 395.48,629.73 397.41,627.84 399.35,635.23 401.28,633.19 403.22,633.55 405.16,630.99 407.09,635.42 409.03,635.24 410.96,634.29 412.90,633.97 414.84,634.48 416.77,637.75 418.71,633.18 420.64,637.33 422.58,636.23 424.52,635.59 426.45,638.06 428.39,637.23 430.32,640.86 432.26,639.33 434.20,640.21 436.13,642.30 438.07,641.47 440.00,642.30 441.94,639.47 443.88,642.43 445.81,644.33 447.75,642.68 449.68,643.11 451.62,638.66 453.56,639.88 455.49,643.04 457.43,645.30 459.36,640.74 461.30,643.97 463.24,647.97 465.17,644.99 467.11,648.40 469.04,643.94 470.98,645.06 472.92,647.97 474.85,647.52 476.79,650.31 478.72,644.12 480.66,646.43 482.60,645.82 484.53,644.86 486.47,647.86 488.40,648.62 490.34,648.72 492.28,647.57 494.21,649.58 496.15,649.13 498.08,648.17 500.02,648.47 501.96,649.89 503.89,651.09 505.83,650.47 507.76,648.49 509.70,647.26" fill="none" stroke="#E24A33" stroke-width="1.2" stroke-linejoin="round"/>
<polyline points="318.04,540.23 319.97,551.66 321.91,558.83 323.84,565.64 325.78,570.21 327.72,573.87 329.65,578.51 331.59,582.02 333.52,587.13 335.46,587.32 337.40,590.94 339.33,592.14 341.27,594.35 343.20,601.66 345.14,599.94 347.08,605.06 349.01,607.61 350.95,608.03 352.88,608.58 354.82,608.81 356.76,607.18 358.69,614.99 360.63,615.15 362.56,615.06 364.50,617.52 366.44,620.64 368.37,619.60 370.31,620.15 372.24,620.48 374.18,622.66 376.12,620.99 378.05,623.47 379.99,623.63 381.92,627.34 383.86,630.90 385.80,626.72 387.73,627.53 389.67,627.64 391.60,629.08 393.54,630.48 395.48,631.04 397.41,629.61 399.35,632.77 401.28,632.83 403.22,632.91 405.16,632.82 407.09,630.21 409.03,634.65 410.96,630.62 412.90,634.32 414.84,635.27 416.77,636.43 418.71,634.73 420.64,633.68 422.58,637.98 424.52,637.48 426.45,638.05 428.39,638.96 430.32,640.12 432.26,638.34 434.20,638.01 436.13,639.04 438.07,640.78 440.00,640.11 441.94,639.19 443.88,640.26 445.81,639.90 447.75,642.10 449.68,641.09 451.62,641.60 453.56,643.97 455.49,643.86 457.43,645.06 459.36,644.22 461.30,644.95 463.24,645.01 465.17,645.31 467.11,646.38 469.04,644.95 470.98,647.53 472.92,646.18 474.85,649.85 476.79,648.35 478.72,645.64 480.66,647.02 482.60,646.49 484.53,648.57 486.47,649.86 488.40,649.48 490.34,647.93 492.28,648.59 494.21,645.40 496.15,645.05 498.08,646.80 500.02,649.80 501.96,648.76 503.89,649.75 505.83,650.14 507.76,650.00 509.70,649.60" fill="none" stroke="#348ABD" stroke-width="1.2" stroke-linejoin="round"/>
<polyline points="318.04,534.94 319.97,550.65 321.91,558.17 323.84,566.13 325.78,571.90 327.72,574.88 329.65,577.73 331.59,580.86 333.52,583.72 335.46,587.21 337.40,590.55 339.33,593.18 341.27,595.93 343.20,599.04 345.14,602.35 347.08,604.48 349.01,605.73 350.95,608.46 352.88,609.62 354.82,611.71 356.76,610.63 358.69,612.15 360.63,614.21 362.56,614.69 364.50,616.31 366.44,618.19 368.37,619.04 370.31,620.19 372.24,617.92 374.18,622.02 376.12,625.51 378.05,624.08 379.99,626.13 381.92,627.42 383.86,625.98 385.80,628.11 387.73,629.53 389.67,629.21 391.60,630.67 393.54,629.75 395.48,631.24 397.41,631.30 399.35,630.46 401.28,630.13 403.22,634.18 405.16,634.20 407.09,634.39" fill="none" stroke="#988ED5" stroke-width="1.2" stroke-linejoin="round"/>
<polyline points="318.04,533.17 319.97,534.25 321.91,531.91 323.84,534.05 325.78,540.49 327.72,539.77 329.65,545.69 331.59,547.42 333.52,547.77 335.46,552.05 337.40,549.31 339.33,559.83 341.27,558.83 343.20,561.39 345.14,562.27 347.08,563.35 349.01,568.64 350.95,566.35 352.88,572.20 354.82,571.41 356.76,572.33 358.69,577.79 360.63,575.92 362.56,578.78 364.50,581.55 366.44,581.17 368.37,580.76 370.31,582.11 372.24,585.03 374.18,587.43 376.12,589.01 378.05,587.68 379.99,589.58 381.92,591.72 383.86,592.98 385.80,594.41 387.73,595.16 389.67,594.17 391.60,597.28 393.54,598.90 395.48,599.22 397.41,600.64 399.35,601.64 401.28,599.17 403.22,598.01 405.16,601.98 407.09,602.30 409.03,603.91 410.96,603.29 412.90,606.77 414.84,605.32 416.77,603.39 418.71,608.05 420.64,607.72 422.58,608.15 424.52,609.86 426.45,607.51 428.39,609.45 430.32,606.97 432.26,609.65 434.20,611.22 436.13,612.20 438.07,613.19 440.00,610.30 441.94,611.96 443.88,609.20 445.81,612.11 447.75,611.96 449.68,612.33 451.62,615.94 453.56,613.09 455.49,613.97 457.43,616.16 459.36,615.70 461.30,614.94 463.24,615.28 465.17,615.39 467.11,615.88 469.04,614.93 470.98,617.59 472.92,618.57 474.85,618.89 476.79,618.01 478.72,619.97 480.66,621.56 482.60,621.98 484.53,618.02 486.47,619.90 488.40,618.42 490.34,620.02 492.28,621.31 494.21,619.01 496.15,619.63 498.08,618.53 500.02,624.55 501.96,624.47 503.89,623.12 505.83,627.36 507.76,623.89 509.70,626.21" fill="none" stroke="#777777" stroke-width="1.2" stroke-linejoin="round"/>
<polyline points="318.04,512.89 319.97,532.98 321.91,535.10 323.84,534.90 325.78,541.85 327.72,542.09 329.65,542.27 331.59,549.23 333.52,548.41 335.46,548.18 337.40,552.32 339.33,552.79 341.27,557.85 343.20,560.61 345.14,560.96 347.08,565.89 349.01,564.10 350.95,567.82 352.88,572.45 354.82,570.45 356.76,572.77 358.69,576.42 360.63,578.88 362.56,578.86 364.50,583.74 366.44,584.87 368.37,581.67 370.31,583.99 372.24,583.58 374.18,586.28 376.12,584.80 378.05,590.36 379.99,587.74 381.92,588.72 383.86,589.22 385.80,589.24 387.73,593.70 389.67,594.40 391.60,591.88 393.54,593.82 395.48,595.40 397.41,600.69 399.35,596.14 401.28,599.03 403.22,599.38 405.16,604.91 407.09,602.38 409.03,607.39 410.96,602.92 412.90,604.38 414.84,604.66 416.77,607.38 418.71,605.86 420.64,607.03 422.58,610.42 424.52,607.70 426.45,608.69 428.39,611.40 430.32,607.62 432.26,611.85 434.20,611.54 436.13,613.89 438.07,614.14 440.00,610.67 441.94,607.15 443.88,612.48 445.81,612.78 447.75,613.27 449.68,611.28 451.62,608.99 453.56,612.76 455.49,614.45 457.43,612.86 459.36,613.59 461.30,615.72 463.24,615.68 465.17,617.75 467.11,616.52 469.04,619.44 470.98,614.92 472.92,614.80 474.85,621.58 476.79,622.53 478.72,620.79 480.66,619.62 482.60,617.59 484.53,620.40 486.47,618.42 488.40,623.38 490.34,621.84 492.28,621.80 494.21,623.78 496.15,624.09 498.08,621.51 500.02,622.16 501.96,621.35 503.89,627.08 505.83,621.32 507.76,620.50 509.70,620.15" fill="none" stroke="#FBC15E" stroke-width="1.2" stroke-linejoin="round"/>
<line x1="316.10" y1="663.20" x2="316.10" y2="665.50" stroke="#777" stroke-width="0.6"/>
<text x="316.10" y="672.80" class="tk" text-anchor="middle" textLength="3.75" lengthAdjust="spacingAndGlyphs">0</text>
<line x1="354.82" y1="663.20" x2="354.82" y2="665.50" stroke="#777" stroke-width="0.6"/>
<text x="354.82" y="672.80" class="tk" text-anchor="middle" textLength="7.49" lengthAdjust="spacingAndGlyphs">20</text>
<line x1="393.54" y1="663.20" x2="393.54" y2="665.50" stroke="#777" stroke-width="0.6"/>
<text x="393.54" y="672.80" class="tk" text-anchor="middle" textLength="7.49" lengthAdjust="spacingAndGlyphs">40</text>
<line x1="432.26" y1="663.20" x2="432.26" y2="665.50" stroke="#777" stroke-width="0.6"/>
<text x="432.26" y="672.80" class="tk" text-anchor="middle" textLength="7.49" lengthAdjust="spacingAndGlyphs">60</text>
<line x1="470.98" y1="663.20" x2="470.98" y2="665.50" stroke="#777" stroke-width="0.6"/>
<text x="470.98" y="672.80" class="tk" text-anchor="middle" textLength="7.49" lengthAdjust="spacingAndGlyphs">80</text>
<line x1="509.70" y1="663.20" x2="509.70" y2="665.50" stroke="#777" stroke-width="0.6"/>
<text x="509.70" y="672.80" class="tk" text-anchor="middle" textLength="11.24" lengthAdjust="spacingAndGlyphs">100</text>
<line x1="305.85" y1="648.70" x2="308.25" y2="648.70" stroke="#777" stroke-width="0.6"/>
<text x="303.95" y="651.20" class="tk" text-anchor="end" textLength="9.37" lengthAdjust="spacingAndGlyphs">0.6</text>
<line x1="305.85" y1="631.06" x2="308.25" y2="631.06" stroke="#777" stroke-width="0.6"/>
<text x="303.95" y="633.56" class="tk" text-anchor="end" textLength="9.37" lengthAdjust="spacingAndGlyphs">0.8</text>
<line x1="305.85" y1="613.43" x2="308.25" y2="613.43" stroke="#777" stroke-width="0.6"/>
<text x="303.95" y="615.93" class="tk" text-anchor="end" textLength="9.37" lengthAdjust="spacingAndGlyphs">1.0</text>
<line x1="305.85" y1="595.79" x2="308.25" y2="595.79" stroke="#777" stroke-width="0.6"/>
<text x="303.95" y="598.29" class="tk" text-anchor="end" textLength="9.37" lengthAdjust="spacingAndGlyphs">1.2</text>
<line x1="305.85" y1="578.15" x2="308.25" y2="578.15" stroke="#777" stroke-width="0.6"/>
<text x="303.95" y="580.65" class="tk" text-anchor="end" textLength="9.37" lengthAdjust="spacingAndGlyphs">1.4</text>
<line x1="305.85" y1="560.51" x2="308.25" y2="560.51" stroke="#777" stroke-width="0.6"/>
<text x="303.95" y="563.01" class="tk" text-anchor="end" textLength="9.37" lengthAdjust="spacingAndGlyphs">1.6</text>
<line x1="305.85" y1="542.88" x2="308.25" y2="542.88" stroke="#777" stroke-width="0.6"/>
<text x="303.95" y="545.38" class="tk" text-anchor="end" textLength="9.37" lengthAdjust="spacingAndGlyphs">1.8</text>
<line x1="305.85" y1="525.24" x2="308.25" y2="525.24" stroke="#777" stroke-width="0.6"/>
<text x="303.95" y="527.74" class="tk" text-anchor="end" textLength="9.37" lengthAdjust="spacingAndGlyphs">2.0</text>
<line x1="305.85" y1="507.60" x2="308.25" y2="507.60" stroke="#777" stroke-width="0.6"/>
<text x="303.95" y="510.10" class="tk" text-anchor="end" textLength="9.37" lengthAdjust="spacingAndGlyphs">2.2</text>
<text x="413.87" y="682.20" class="lb" text-anchor="middle" textLength="25.33" lengthAdjust="spacingAndGlyphs">Epochs</text>
<text x="0" y="0" class="lb" text-anchor="middle" textLength="15.51" lengthAdjust="spacingAndGlyphs" transform="translate(291.29,585.90) rotate(-90)">Loss</text>
<rect x="449.78" y="561.90" width="66.60" height="46.20" fill="#E5E5E5" fill-opacity="0.85" stroke="none" rx="1.5"/>
<line x1="452.28" y1="567.30" x2="464.98" y2="567.30" stroke="#E24A33" stroke-width="1.25"/>
<text x="469.88" y="569.40" class="lg" textLength="9.07" lengthAdjust="spacingAndGlyphs">HO</text>
<line x1="452.28" y1="576.15" x2="464.98" y2="576.15" stroke="#348ABD" stroke-width="1.25"/>
<text x="469.88" y="578.25" class="lg" textLength="44.18" lengthAdjust="spacingAndGlyphs">KFold 10- fold3</text>
<line x1="452.28" y1="585.00" x2="464.98" y2="585.00" stroke="#988ED5" stroke-width="1.25"/>
<text x="469.88" y="587.10" class="lg" textLength="44.18" lengthAdjust="spacingAndGlyphs">KFold 10- fold7</text>
<line x1="452.28" y1="593.85" x2="464.98" y2="593.85" stroke="#777777" stroke-width="1.25"/>
<text x="469.88" y="595.95" class="lg" textLength="17.86" lengthAdjust="spacingAndGlyphs">SCDIS</text>
<line x1="452.28" y1="602.70" x2="464.98" y2="602.70" stroke="#FBC15E" stroke-width="1.25"/>
<text x="469.88" y="604.80" class="lg" textLength="16.61" lengthAdjust="spacingAndGlyphs">FSCIS</text>
<rect x="36.25" y="728.80" width="210.8304" height="155.6" fill="#E5E5E5"/>
<line x1="43.90" y1="728.80" x2="43.90" y2="884.40" stroke="#fff" stroke-opacity="0.8" stroke-width="1.0"/>
<line x1="82.62" y1="728.80" x2="82.62" y2="884.40" stroke="#fff" stroke-opacity="0.8" stroke-width="1.0"/>
<line x1="121.34" y1="728.80" x2="121.34" y2="884.40" stroke="#fff" stroke-opacity="0.8" stroke-width="1.0"/>
<line x1="160.06" y1="728.80" x2="160.06" y2="884.40" stroke="#fff" stroke-opacity="0.8" stroke-width="1.0"/>
<line x1="198.78" y1="728.80" x2="198.78" y2="884.40" stroke="#fff" stroke-opacity="0.8" stroke-width="1.0"/>
<line x1="237.50" y1="728.80" x2="237.50" y2="884.40" stroke="#fff" stroke-opacity="0.8" stroke-width="1.0"/>
<line x1="36.25" y1="863.61" x2="247.08" y2="863.61" stroke="#fff" stroke-opacity="0.8" stroke-width="1.0"/>
<line x1="36.25" y1="841.86" x2="247.08" y2="841.86" stroke="#fff" stroke-opacity="0.8" stroke-width="1.0"/>
<line x1="36.25" y1="820.11" x2="247.08" y2="820.11" stroke="#fff" stroke-opacity="0.8" stroke-width="1.0"/>
<line x1="36.25" y1="798.36" x2="247.08" y2="798.36" stroke="#fff" stroke-opacity="0.8" stroke-width="1.0"/>
<line x1="36.25" y1="776.61" x2="247.08" y2="776.61" stroke="#fff" stroke-opacity="0.8" stroke-width="1.0"/>
<line x1="36.25" y1="754.86" x2="247.08" y2="754.86" stroke="#fff" stroke-opacity="0.8" stroke-width="1.0"/>
<line x1="36.25" y1="733.11" x2="247.08" y2="733.11" stroke="#fff" stroke-opacity="0.8" stroke-width="1.0"/>
<polyline points="45.84,842.73 47.77,785.47 49.71,812.75 51.64,790.67 53.58,786.53 55.52,774.75 57.45,770.03 59.39,771.46 61.32,768.38 63.26,757.14 65.20,766.26 67.13,763.34 69.07,757.22 71.00,757.19 72.94,753.57 74.88,754.72 76.81,759.49 78.75,759.24 80.68,762.30 82.62,759.57 84.56,761.47 86.49,765.96 88.43,760.70 90.36,764.00 92.30,761.10 94.24,762.02 96.17,758.93 98.11,765.90 100.04,756.18 101.98,760.37 103.92,751.98 105.85,757.62 107.79,754.76 109.72,754.34 111.66,750.68 113.60,747.51 115.53,750.44 117.47,751.63 119.40,751.60 121.34,752.86 123.28,752.89 125.21,755.60 127.15,754.35 129.08,750.26 131.02,751.70 132.96,760.11 134.89,756.08 136.83,755.09 138.76,757.32 140.70,757.87 142.64,756.32 144.57,753.50 146.51,753.48 148.44,756.53 150.38,754.44 152.32,757.25 154.25,755.46 156.19,756.78 158.12,760.13 160.06,757.35 162.00,753.98 163.93,751.37 165.87,753.37 167.80,748.08 169.74,750.98 171.68,753.11 173.61,753.89 175.55,745.58 177.48,752.04 179.42,754.00 181.36,749.10 183.29,751.23 185.23,747.36 187.16,752.90 189.10,745.38 191.04,744.60 192.97,748.18 194.91,749.67 196.84,746.28 198.78,743.11 200.72,747.88 202.65,746.48 204.59,742.40 206.52,743.77 208.46,745.60 210.40,744.05 212.33,745.15 214.27,747.47 216.20,747.33 218.14,755.09 220.08,747.80 222.01,746.24 223.95,747.43 225.88,751.15 227.82,745.76 229.76,747.19 231.69,753.99 233.63,752.28 235.56,754.01 237.50,755.66" fill="none" stroke="#E24A33" stroke-width="1.2" stroke-linejoin="round"/>
<polyline points="45.84,854.47 47.77,839.53 49.71,818.60 51.64,807.76 53.58,802.77 55.52,791.99 57.45,784.47 59.39,790.04 61.32,787.29 63.26,783.46 65.20,791.32 67.13,782.32 69.07,766.91 71.00,778.66 72.94,768.65 74.88,761.76 76.81,767.20 78.75,765.13 80.68,760.88 82.62,769.00 84.56,743.42 86.49,761.84 88.43,759.42 90.36,761.44 92.30,774.66 94.24,761.10 96.17,767.64 98.11,758.18 100.04,760.70 101.98,760.67 103.92,768.70 105.85,763.58 107.79,758.13 109.72,751.35 111.66,747.95 113.60,737.90 115.53,748.06 117.47,743.60 119.40,736.29 121.34,747.86 123.28,732.21 125.21,746.66 127.15,742.73 129.08,749.28 131.02,741.12 132.96,740.45 134.89,743.92 136.83,758.93 138.76,747.56 140.70,754.28 142.64,752.29 144.57,764.24 146.51,755.67 148.44,748.83 150.38,752.30 152.32,751.56 154.25,745.26 156.19,743.74 158.12,748.17 160.06,747.31 162.00,746.65 163.93,761.96 165.87,768.77 167.80,761.23 169.74,750.02 171.68,747.62 173.61,763.46 175.55,744.72 177.48,740.05 179.42,754.78 181.36,751.03 183.29,748.47 185.23,741.76 187.16,745.23 189.10,744.97 191.04,747.85 192.97,753.70 194.91,738.54 196.84,746.08 198.78,747.65 200.72,747.87 202.65,750.25 204.59,742.80 206.52,747.07 208.46,750.40 210.40,737.70 212.33,737.27 214.27,738.09 216.20,747.82 218.14,742.53 220.08,733.31 222.01,742.44 223.95,740.91 225.88,737.27 227.82,734.53 229.76,748.56 231.69,738.73 233.63,744.25 235.56,736.75 237.50,739.32" fill="none" stroke="#348ABD" stroke-width="1.2" stroke-linejoin="round"/>
<polyline points="45.84,854.47 47.77,813.15 49.71,821.51 51.64,814.39 53.58,808.25 55.52,810.94 57.45,810.30 59.39,818.86 61.32,805.97 63.26,792.62 65.20,796.13 67.13,791.90 69.07,802.24 71.00,808.68 72.94,796.89 74.88,794.37 76.81,786.42 78.75,795.33 80.68,791.94 82.62,791.83 84.56,781.54 86.49,791.42 88.43,796.16 90.36,794.93 92.30,794.92 94.24,792.11 96.17,800.90 98.11,785.75 100.04,789.01 101.98,790.27 103.92,788.73 105.85,795.23 107.79,803.51 109.72,799.27 111.66,801.54 113.60,792.14 115.53,804.92 117.47,798.72 119.40,798.40 121.34,812.50 123.28,804.31 125.21,801.09 127.15,793.16 129.08,805.28 131.02,796.50 132.96,798.41 134.89,803.75 136.83,790.76" fill="none" stroke="#988ED5" stroke-width="1.2" stroke-linejoin="round"/>
<polyline points="45.84,848.38 47.77,855.19 49.71,860.99 51.64,843.27 53.58,830.12 55.52,820.72 57.45,816.12 59.39,807.82 61.32,801.68 63.26,796.09 65.20,789.79 67.13,788.54 69.07,786.67 71.00,783.16 72.94,780.95 74.88,775.67 76.81,777.83 78.75,777.66 80.68,779.18 82.62,781.97 84.56,784.66 86.49,783.09 88.43,779.64 90.36,778.79 92.30,779.49 94.24,777.79 96.17,777.75 98.11,778.67 100.04,772.69 101.98,773.15 103.92,774.75 105.85,775.88 107.79,770.51 109.72,769.97 111.66,768.39 113.60,765.57 115.53,763.02 117.47,766.42 119.40,764.46 121.34,765.38 123.28,767.91 125.21,763.23 127.15,763.67 129.08,763.67 131.02,762.86 132.96,763.53 134.89,759.55 136.83,757.01 138.76,759.10 140.70,762.27 142.64,765.09 144.57,761.64 146.51,763.61 148.44,762.82 150.38,761.01 152.32,762.67 154.25,762.04 156.19,762.19 158.12,762.54 160.06,759.82 162.00,760.65 163.93,757.90 165.87,759.81 167.80,758.75 169.74,758.83 171.68,761.42 173.61,757.47 175.55,757.76 177.48,755.03 179.42,754.56 181.36,758.51 183.29,756.84 185.23,757.33 187.16,754.98 189.10,756.89 191.04,756.30 192.97,756.93 194.91,756.25 196.84,755.93 198.78,756.14 200.72,755.07 202.65,756.21 204.59,756.06 206.52,757.30 208.46,756.28 210.40,753.59 212.33,755.96 214.27,755.26 216.20,756.48 218.14,754.59 220.08,752.79 222.01,753.29 223.95,754.40 225.88,753.00 227.82,754.44 229.76,753.22 231.69,755.42 233.63,756.06 235.56,750.01 237.50,753.58" fill="none" stroke="#777777" stroke-width="1.2" stroke-linejoin="round"/>
<polyline points="45.84,877.74 47.77,865.59 49.71,855.70 51.64,854.40 53.58,848.17 55.52,843.89 57.45,835.46 59.39,829.18 61.32,827.12 63.26,825.65 65.20,825.33 67.13,823.55 69.07,828.13 71.00,819.19 72.94,815.34 74.88,812.10 76.81,805.22 78.75,805.52 80.68,798.94 82.62,795.55 84.56,791.57 86.49,793.59 88.43,790.27 90.36,789.09 92.30,784.86 94.24,781.15 96.17,783.63 98.11,785.92 100.04,784.05 101.98,781.24 103.92,782.77 105.85,774.32 107.79,771.32 109.72,776.24 111.66,773.40 113.60,773.18 115.53,770.96 117.47,768.98 119.40,772.06 121.34,768.66 123.28,773.02 125.21,771.33 127.15,765.96 129.08,770.55 131.02,771.56 132.96,770.83 134.89,770.68 136.83,769.07 138.76,769.25 140.70,768.58 142.64,769.71 144.57,769.92 146.51,770.32 148.44,770.45 150.38,771.73 152.32,769.15 154.25,763.18 156.19,769.81 158.12,768.74 160.06,771.42 162.00,773.16 163.93,776.26 165.87,769.82 167.80,770.66 169.74,773.71 171.68,770.25 173.61,766.48 175.55,770.68 177.48,772.92 179.42,772.79 181.36,770.32 183.29,764.48 185.23,769.70 187.16,767.21 189.10,772.74 191.04,773.76 192.97,772.93 194.91,772.31 196.84,769.41 198.78,765.46 200.72,765.37 202.65,769.21 204.59,768.92 206.52,767.98 208.46,768.44 210.40,768.69 212.33,763.04 214.27,767.01 216.20,763.79 218.14,765.69 220.08,764.22 222.01,765.96 223.95,761.21 225.88,761.31 227.82,761.07 229.76,763.88 231.69,761.50 233.63,765.40 235.56,766.14 237.50,762.76" fill="none" stroke="#FBC15E" stroke-width="1.2" stroke-linejoin="round"/>
<line x1="43.90" y1="884.40" x2="43.90" y2="886.70" stroke="#777" stroke-width="0.6"/>
<text x="43.90" y="894.00" class="tk" text-anchor="middle" textLength="3.75" lengthAdjust="spacingAndGlyphs">0</text>
<line x1="82.62" y1="884.40" x2="82.62" y2="886.70" stroke="#777" stroke-width="0.6"/>
<text x="82.62" y="894.00" class="tk" text-anchor="middle" textLength="7.49" lengthAdjust="spacingAndGlyphs">20</text>
<line x1="121.34" y1="884.40" x2="121.34" y2="886.70" stroke="#777" stroke-width="0.6"/>
<text x="121.34" y="894.00" class="tk" text-anchor="middle" textLength="7.49" lengthAdjust="spacingAndGlyphs">40</text>
<line x1="160.06" y1="884.40" x2="160.06" y2="886.70" stroke="#777" stroke-width="0.6"/>
<text x="160.06" y="894.00" class="tk" text-anchor="middle" textLength="7.49" lengthAdjust="spacingAndGlyphs">60</text>
<line x1="198.78" y1="884.40" x2="198.78" y2="886.70" stroke="#777" stroke-width="0.6"/>
<text x="198.78" y="894.00" class="tk" text-anchor="middle" textLength="7.49" lengthAdjust="spacingAndGlyphs">80</text>
<line x1="237.50" y1="884.40" x2="237.50" y2="886.70" stroke="#777" stroke-width="0.6"/>
<text x="237.50" y="894.00" class="tk" text-anchor="middle" textLength="11.24" lengthAdjust="spacingAndGlyphs">100</text>
<line x1="33.65" y1="863.61" x2="36.05" y2="863.61" stroke="#777" stroke-width="0.6"/>
<text x="31.75" y="866.11" class="tk" text-anchor="end" textLength="9.37" lengthAdjust="spacingAndGlyphs">0.2</text>
<line x1="33.65" y1="841.86" x2="36.05" y2="841.86" stroke="#777" stroke-width="0.6"/>
<text x="31.75" y="844.36" class="tk" text-anchor="end" textLength="9.37" lengthAdjust="spacingAndGlyphs">0.3</text>
<line x1="33.65" y1="820.11" x2="36.05" y2="820.11" stroke="#777" stroke-width="0.6"/>
<text x="31.75" y="822.61" class="tk" text-anchor="end" textLength="9.37" lengthAdjust="spacingAndGlyphs">0.4</text>
<line x1="33.65" y1="798.36" x2="36.05" y2="798.36" stroke="#777" stroke-width="0.6"/>
<text x="31.75" y="800.86" class="tk" text-anchor="end" textLength="9.37" lengthAdjust="spacingAndGlyphs">0.5</text>
<line x1="33.65" y1="776.61" x2="36.05" y2="776.61" stroke="#777" stroke-width="0.6"/>
<text x="31.75" y="779.11" class="tk" text-anchor="end" textLength="9.37" lengthAdjust="spacingAndGlyphs">0.6</text>
<line x1="33.65" y1="754.86" x2="36.05" y2="754.86" stroke="#777" stroke-width="0.6"/>
<text x="31.75" y="757.36" class="tk" text-anchor="end" textLength="9.37" lengthAdjust="spacingAndGlyphs">0.7</text>
<line x1="33.65" y1="733.11" x2="36.05" y2="733.11" stroke="#777" stroke-width="0.6"/>
<text x="31.75" y="735.61" class="tk" text-anchor="end" textLength="9.37" lengthAdjust="spacingAndGlyphs">0.8</text>
<text x="141.67" y="903.40" class="lb" text-anchor="middle" textLength="25.33" lengthAdjust="spacingAndGlyphs">Epochs</text>
<text x="0" y="0" class="lb" text-anchor="middle" textLength="32.28" lengthAdjust="spacingAndGlyphs" transform="translate(17.39,807.10) rotate(-90)">Accuracy</text>
<rect x="177.58" y="783.10" width="66.60" height="46.20" fill="#E5E5E5" fill-opacity="0.85" stroke="none" rx="1.5"/>
<line x1="180.08" y1="788.50" x2="192.78" y2="788.50" stroke="#E24A33" stroke-width="1.25"/>
<text x="197.68" y="790.60" class="lg" textLength="9.07" lengthAdjust="spacingAndGlyphs">HO</text>
<line x1="180.08" y1="797.35" x2="192.78" y2="797.35" stroke="#348ABD" stroke-width="1.25"/>
<text x="197.68" y="799.45" class="lg" textLength="44.18" lengthAdjust="spacingAndGlyphs">KFold 10- fold3</text>
<line x1="180.08" y1="806.20" x2="192.78" y2="806.20" stroke="#988ED5" stroke-width="1.25"/>
<text x="197.68" y="808.30" class="lg" textLength="44.18" lengthAdjust="spacingAndGlyphs">KFold 10- fold7</text>
<line x1="180.08" y1="815.05" x2="192.78" y2="815.05" stroke="#777777" stroke-width="1.25"/>
<text x="197.68" y="817.15" class="lg" textLength="17.86" lengthAdjust="spacingAndGlyphs">SCDIS</text>
<line x1="180.08" y1="823.90" x2="192.78" y2="823.90" stroke="#FBC15E" stroke-width="1.25"/>
<text x="197.68" y="826.00" class="lg" textLength="16.61" lengthAdjust="spacingAndGlyphs">FSCIS</text>
<rect x="308.95" y="728.90" width="210.8304" height="155.6" fill="#E5E5E5"/>
<line x1="316.60" y1="728.90" x2="316.60" y2="884.50" stroke="#fff" stroke-opacity="0.8" stroke-width="1.0"/>
<line x1="355.32" y1="728.90" x2="355.32" y2="884.50" stroke="#fff" stroke-opacity="0.8" stroke-width="1.0"/>
<line x1="394.04" y1="728.90" x2="394.04" y2="884.50" stroke="#fff" stroke-opacity="0.8" stroke-width="1.0"/>
<line x1="432.76" y1="728.90" x2="432.76" y2="884.50" stroke="#fff" stroke-opacity="0.8" stroke-width="1.0"/>
<line x1="471.48" y1="728.90" x2="471.48" y2="884.50" stroke="#fff" stroke-opacity="0.8" stroke-width="1.0"/>
<line x1="510.20" y1="728.90" x2="510.20" y2="884.50" stroke="#fff" stroke-opacity="0.8" stroke-width="1.0"/>
<line x1="308.95" y1="880.50" x2="519.78" y2="880.50" stroke="#fff" stroke-opacity="0.8" stroke-width="1.0"/>
<line x1="308.95" y1="852.54" x2="519.78" y2="852.54" stroke="#fff" stroke-opacity="0.8" stroke-width="1.0"/>
<line x1="308.95" y1="824.58" x2="519.78" y2="824.58" stroke="#fff" stroke-opacity="0.8" stroke-width="1.0"/>
<line x1="308.95" y1="796.62" x2="519.78" y2="796.62" stroke="#fff" stroke-opacity="0.8" stroke-width="1.0"/>
<line x1="308.95" y1="768.66" x2="519.78" y2="768.66" stroke="#fff" stroke-opacity="0.8" stroke-width="1.0"/>
<line x1="308.95" y1="740.70" x2="519.78" y2="740.70" stroke="#fff" stroke-opacity="0.8" stroke-width="1.0"/>
<polyline points="318.54,751.88 320.47,768.63 322.41,780.17 324.34,787.62 326.28,792.19 328.22,798.11 330.15,805.45 332.09,815.02 334.02,819.07 335.96,823.22 337.90,825.06 339.83,829.24 341.77,833.01 343.70,834.18 345.64,836.55 347.58,841.60 349.51,840.50 351.45,843.89 353.38,844.51 355.32,845.53 357.26,849.78 359.19,847.28 361.13,852.62 363.06,850.70 365.00,852.08 366.94,854.84 368.87,853.18 370.81,857.39 372.74,860.03 374.68,858.31 376.62,860.72 378.55,859.96 380.49,859.88 382.42,858.06 384.36,861.93 386.30,862.21 388.23,861.41 390.17,861.35 392.10,863.41 394.04,861.88 395.98,865.73 397.91,865.44 399.85,865.98 401.78,865.56 403.72,863.96 405.66,865.14 407.59,863.55 409.53,868.02 411.46,867.06 413.40,864.49 415.34,866.09 417.27,866.81 419.21,870.04 421.14,865.47 423.08,868.47 425.02,865.98 426.95,868.85 428.89,868.46 430.82,864.71 432.76,869.51 434.70,870.07 436.63,869.01 438.57,872.29 440.50,869.34 442.44,869.22 444.38,870.08 446.31,871.47 448.25,870.40 450.18,871.64 452.12,871.37 454.06,872.49 455.99,870.11 457.93,872.01 459.86,869.80 461.80,873.29 463.74,872.73 465.67,873.54 467.61,871.49 469.54,870.04 471.48,870.70 473.42,869.21 475.35,871.22 477.29,875.52 479.22,872.63 481.16,870.81 483.10,871.36 485.03,872.65 486.97,872.73 488.90,872.85 490.84,876.61 492.78,875.24 494.71,872.52 496.65,871.10 498.58,874.82 500.52,874.83 502.46,873.05 504.39,872.91 506.33,874.15 508.26,875.49 510.20,872.66" fill="none" stroke="#E24A33" stroke-width="1.2" stroke-linejoin="round"/>
<polyline points="318.54,749.09 320.47,766.70 322.41,775.27 324.34,787.38 326.28,792.80 328.22,797.37 330.15,799.00 332.09,803.60 334.02,809.98 335.96,814.04 337.90,819.42 339.83,822.63 341.77,820.66 343.70,821.13 345.64,824.27 347.58,830.02 349.51,826.90 351.45,828.11 353.38,831.36 355.32,829.31 357.26,828.68 359.19,830.95 361.13,833.73 363.06,836.51 365.00,835.17 366.94,839.72 368.87,835.58 370.81,835.55 372.74,837.24 374.68,835.53 376.62,838.84 378.55,836.44 380.49,837.10 382.42,838.56 384.36,837.06 386.30,840.24 388.23,840.23 390.17,843.38 392.10,840.43 394.04,839.29 395.98,839.30 397.91,840.27 399.85,840.13 401.78,839.89 403.72,845.56 405.66,844.00 407.59,845.28 409.53,844.78 411.46,843.85 413.40,842.20 415.34,845.66 417.27,846.94 419.21,850.44 421.14,843.82 423.08,847.43 425.02,843.87 426.95,845.66 428.89,848.41 430.82,851.00 432.76,849.32 434.70,848.34 436.63,847.98 438.57,846.64 440.50,850.95 442.44,849.77 444.38,849.55 446.31,846.66 448.25,847.69 450.18,849.05 452.12,849.83 454.06,852.34 455.99,850.00 457.93,855.26 459.86,853.90 461.80,852.69 463.74,850.08 465.67,849.96 467.61,850.16 469.54,849.80 471.48,852.98 473.42,852.76 475.35,854.50 477.29,852.07 479.22,855.32 481.16,852.55 483.10,847.49 485.03,848.98 486.97,854.06 488.90,855.77 490.84,853.66 492.78,855.48 494.71,855.70 496.65,850.52 498.58,856.66 500.52,854.95 502.46,856.00 504.39,852.58 506.33,854.90 508.26,857.65 510.20,854.08" fill="none" stroke="#348ABD" stroke-width="1.2" stroke-linejoin="round"/>
<polyline points="318.54,747.69 320.47,757.89 322.41,772.89 324.34,774.42 326.28,778.32 328.22,794.46 330.15,783.63 332.09,794.30 334.02,798.03 335.96,786.78 337.90,804.03 339.83,806.04 341.77,803.82 343.70,793.07 345.64,797.46 347.58,804.95 349.51,794.75 351.45,809.90 353.38,816.44 355.32,803.37 357.26,806.58 359.19,806.51 361.13,815.18 363.06,806.49 365.00,808.50 366.94,817.98 368.87,809.20 370.81,811.83 372.74,806.56 374.68,817.84 376.62,815.26 378.55,812.52 380.49,825.60 382.42,822.63 384.36,826.14 386.30,824.38 388.23,813.33 390.17,816.53 392.10,817.76 394.04,817.84 395.98,816.18 397.91,810.98 399.85,814.97 401.78,809.90 403.72,816.35 405.66,817.34 407.59,815.60 409.53,819.09" fill="none" stroke="#988ED5" stroke-width="1.2" stroke-linejoin="round"/>
<polyline points="318.54,741.68 320.47,750.96 322.41,756.31 324.34,760.35 326.28,763.54 328.22,767.32 330.15,772.39 332.09,776.81 334.02,780.82 335.96,784.16 337.90,787.20 339.83,790.28 341.77,793.36 343.70,795.95 345.64,798.30 347.58,800.65 349.51,803.31 351.45,805.73 353.38,807.59 355.32,809.24 357.26,811.30 359.19,813.05 361.13,814.92 363.06,816.65 365.00,818.51 366.94,819.67 368.87,821.55 370.81,822.90 372.74,824.35 374.68,826.05 376.62,827.14 378.55,828.63 380.49,829.53 382.42,830.74 384.36,832.15 386.30,833.35 388.23,834.18 390.17,834.83 392.10,835.75 394.04,836.13 395.98,837.47 397.91,838.07 399.85,838.38 401.78,839.87 403.72,840.44 405.66,840.89 407.59,841.93 409.53,842.07 411.46,843.17 413.40,843.50 415.34,844.08 417.27,844.79 419.21,844.69 421.14,845.78 423.08,845.83 425.02,846.52 426.95,847.01 428.89,847.99 430.82,848.92 432.76,849.51 434.70,849.75 436.63,850.96 438.57,851.29 440.50,851.68 442.44,852.41 444.38,853.26 446.31,853.49 448.25,854.02 450.18,854.46 452.12,854.99 454.06,855.99 455.99,856.50 457.93,857.06 459.86,857.63 461.80,858.06 463.74,858.64 465.67,858.60 467.61,859.08 469.54,859.81 471.48,860.36 473.42,860.35 475.35,861.27 477.29,861.49 479.22,862.37 481.16,862.65 483.10,862.72 485.03,863.12 486.97,863.91 488.90,864.33 490.84,864.66 492.78,865.42 494.71,866.08 496.65,866.02 498.58,866.61 500.52,866.93 502.46,866.72 504.39,867.74 506.33,868.06 508.26,868.37 510.20,868.52" fill="none" stroke="#777777" stroke-width="1.2" stroke-linejoin="round"/>
<polyline points="318.54,734.55 320.47,740.44 322.41,743.82 324.34,746.24 326.28,748.12 328.22,751.51 330.15,756.65 332.09,761.01 334.02,764.77 335.96,768.68 337.90,772.19 339.83,775.42 341.77,777.92 343.70,780.51 345.64,782.55 347.58,785.30 349.51,787.44 351.45,789.54 353.38,791.25 355.32,793.09 357.26,794.96 359.19,796.60 361.13,797.84 363.06,799.20 365.00,800.73 366.94,802.13 368.87,803.47 370.81,805.00 372.74,806.18 374.68,807.56 376.62,808.42 378.55,809.70 380.49,810.82 382.42,811.70 384.36,812.66 386.30,813.80 388.23,815.08 390.17,816.13 392.10,817.14 394.04,817.97 395.98,818.80 397.91,819.91 399.85,820.72 401.78,822.13 403.72,822.75 405.66,823.54 407.59,824.49 409.53,824.64 411.46,825.28 413.40,825.56 415.34,826.27 417.27,827.07 419.21,828.15 421.14,828.60 423.08,828.70 425.02,828.90 426.95,829.55 428.89,830.30 430.82,830.49 432.76,831.05 434.70,831.71 436.63,831.76 438.57,832.44 440.50,832.75 442.44,833.25 444.38,833.28 446.31,833.79 448.25,834.21 450.18,834.52 452.12,834.67 454.06,835.30 455.99,835.40 457.93,836.04 459.86,836.07 461.80,836.74 463.74,837.10 465.67,837.02 467.61,837.38 469.54,837.89 471.48,838.34 473.42,838.28 475.35,838.95 477.29,839.41 479.22,839.97 481.16,840.32 483.10,840.61 485.03,841.03 486.97,840.95 488.90,841.26 490.84,841.73 492.78,842.12 494.71,842.04 496.65,842.64 498.58,842.63 500.52,843.29 502.46,843.62 504.39,843.60 506.33,844.09 508.26,844.21 510.20,844.71" fill="none" stroke="#FBC15E" stroke-width="1.2" stroke-linejoin="round"/>
<line x1="316.60" y1="884.50" x2="316.60" y2="886.80" stroke="#777" stroke-width="0.6"/>
<text x="316.60" y="894.10" class="tk" text-anchor="middle" textLength="3.75" lengthAdjust="spacingAndGlyphs">0</text>
<line x1="355.32" y1="884.50" x2="355.32" y2="886.80" stroke="#777" stroke-width="0.6"/>
<text x="355.32" y="894.10" class="tk" text-anchor="middle" textLength="7.49" lengthAdjust="spacingAndGlyphs">20</text>
<line x1="394.04" y1="884.50" x2="394.04" y2="886.80" stroke="#777" stroke-width="0.6"/>
<text x="394.04" y="894.10" class="tk" text-anchor="middle" textLength="7.49" lengthAdjust="spacingAndGlyphs">40</text>
<line x1="432.76" y1="884.50" x2="432.76" y2="886.80" stroke="#777" stroke-width="0.6"/>
<text x="432.76" y="894.10" class="tk" text-anchor="middle" textLength="7.49" lengthAdjust="spacingAndGlyphs">60</text>
<line x1="471.48" y1="884.50" x2="471.48" y2="886.80" stroke="#777" stroke-width="0.6"/>
<text x="471.48" y="894.10" class="tk" text-anchor="middle" textLength="7.49" lengthAdjust="spacingAndGlyphs">80</text>
<line x1="510.20" y1="884.50" x2="510.20" y2="886.80" stroke="#777" stroke-width="0.6"/>
<text x="510.20" y="894.10" class="tk" text-anchor="middle" textLength="11.24" lengthAdjust="spacingAndGlyphs">100</text>
<line x1="306.35" y1="880.50" x2="308.75" y2="880.50" stroke="#777" stroke-width="0.6"/>
<text x="304.45" y="883.00" class="tk" text-anchor="end" textLength="9.37" lengthAdjust="spacingAndGlyphs">0.8</text>
<line x1="306.35" y1="852.54" x2="308.75" y2="852.54" stroke="#777" stroke-width="0.6"/>
<text x="304.45" y="855.04" class="tk" text-anchor="end" textLength="9.37" lengthAdjust="spacingAndGlyphs">1.0</text>
<line x1="306.35" y1="824.58" x2="308.75" y2="824.58" stroke="#777" stroke-width="0.6"/>
<text x="304.45" y="827.08" class="tk" text-anchor="end" textLength="9.37" lengthAdjust="spacingAndGlyphs">1.2</text>
<line x1="306.35" y1="796.62" x2="308.75" y2="796.62" stroke="#777" stroke-width="0.6"/>
<text x="304.45" y="799.12" class="tk" text-anchor="end" textLength="9.37" lengthAdjust="spacingAndGlyphs">1.4</text>
<line x1="306.35" y1="768.66" x2="308.75" y2="768.66" stroke="#777" stroke-width="0.6"/>
<text x="304.45" y="771.16" class="tk" text-anchor="end" textLength="9.37" lengthAdjust="spacingAndGlyphs">1.6</text>
<line x1="306.35" y1="740.70" x2="308.75" y2="740.70" stroke="#777" stroke-width="0.6"/>
<text x="304.45" y="743.20" class="tk" text-anchor="end" textLength="9.37" lengthAdjust="spacingAndGlyphs">1.8</text>
<text x="414.37" y="903.50" class="lb" text-anchor="middle" textLength="25.33" lengthAdjust="spacingAndGlyphs">Epochs</text>
<text x="0" y="0" class="lb" text-anchor="middle" textLength="15.51" lengthAdjust="spacingAndGlyphs" transform="translate(291.79,807.20) rotate(-90)">Loss</text>
<rect x="450.28" y="783.20" width="66.60" height="46.20" fill="#E5E5E5" fill-opacity="0.85" stroke="none" rx="1.5"/>
<line x1="452.78" y1="788.60" x2="465.48" y2="788.60" stroke="#E24A33" stroke-width="1.25"/>
<text x="470.38" y="790.70" class="lg" textLength="9.07" lengthAdjust="spacingAndGlyphs">HO</text>
<line x1="452.78" y1="797.45" x2="465.48" y2="797.45" stroke="#348ABD" stroke-width="1.25"/>
<text x="470.38" y="799.55" class="lg" textLength="44.18" lengthAdjust="spacingAndGlyphs">KFold 10- fold3</text>
<line x1="452.78" y1="806.30" x2="465.48" y2="806.30" stroke="#988ED5" stroke-width="1.25"/>
<text x="470.38" y="808.40" class="lg" textLength="44.18" lengthAdjust="spacingAndGlyphs">KFold 10- fold7</text>
<line x1="452.78" y1="815.15" x2="465.48" y2="815.15" stroke="#777777" stroke-width="1.25"/>
<text x="470.38" y="817.25" class="lg" textLength="17.86" lengthAdjust="spacingAndGlyphs">SCDIS</text>
<line x1="452.78" y1="824.00" x2="465.48" y2="824.00" stroke="#FBC15E" stroke-width="1.25"/>
<text x="470.38" y="826.10" class="lg" textLength="16.61" lengthAdjust="spacingAndGlyphs">FSCIS</text>
<text x="274" y="459" class="cap" text-anchor="middle">(<tspan>a</tspan>)</text>
<text x="274.2" y="923.2" class="cap" text-anchor="middle">(<tspan>b</tspan>)</text>
</svg>
</body></html>
